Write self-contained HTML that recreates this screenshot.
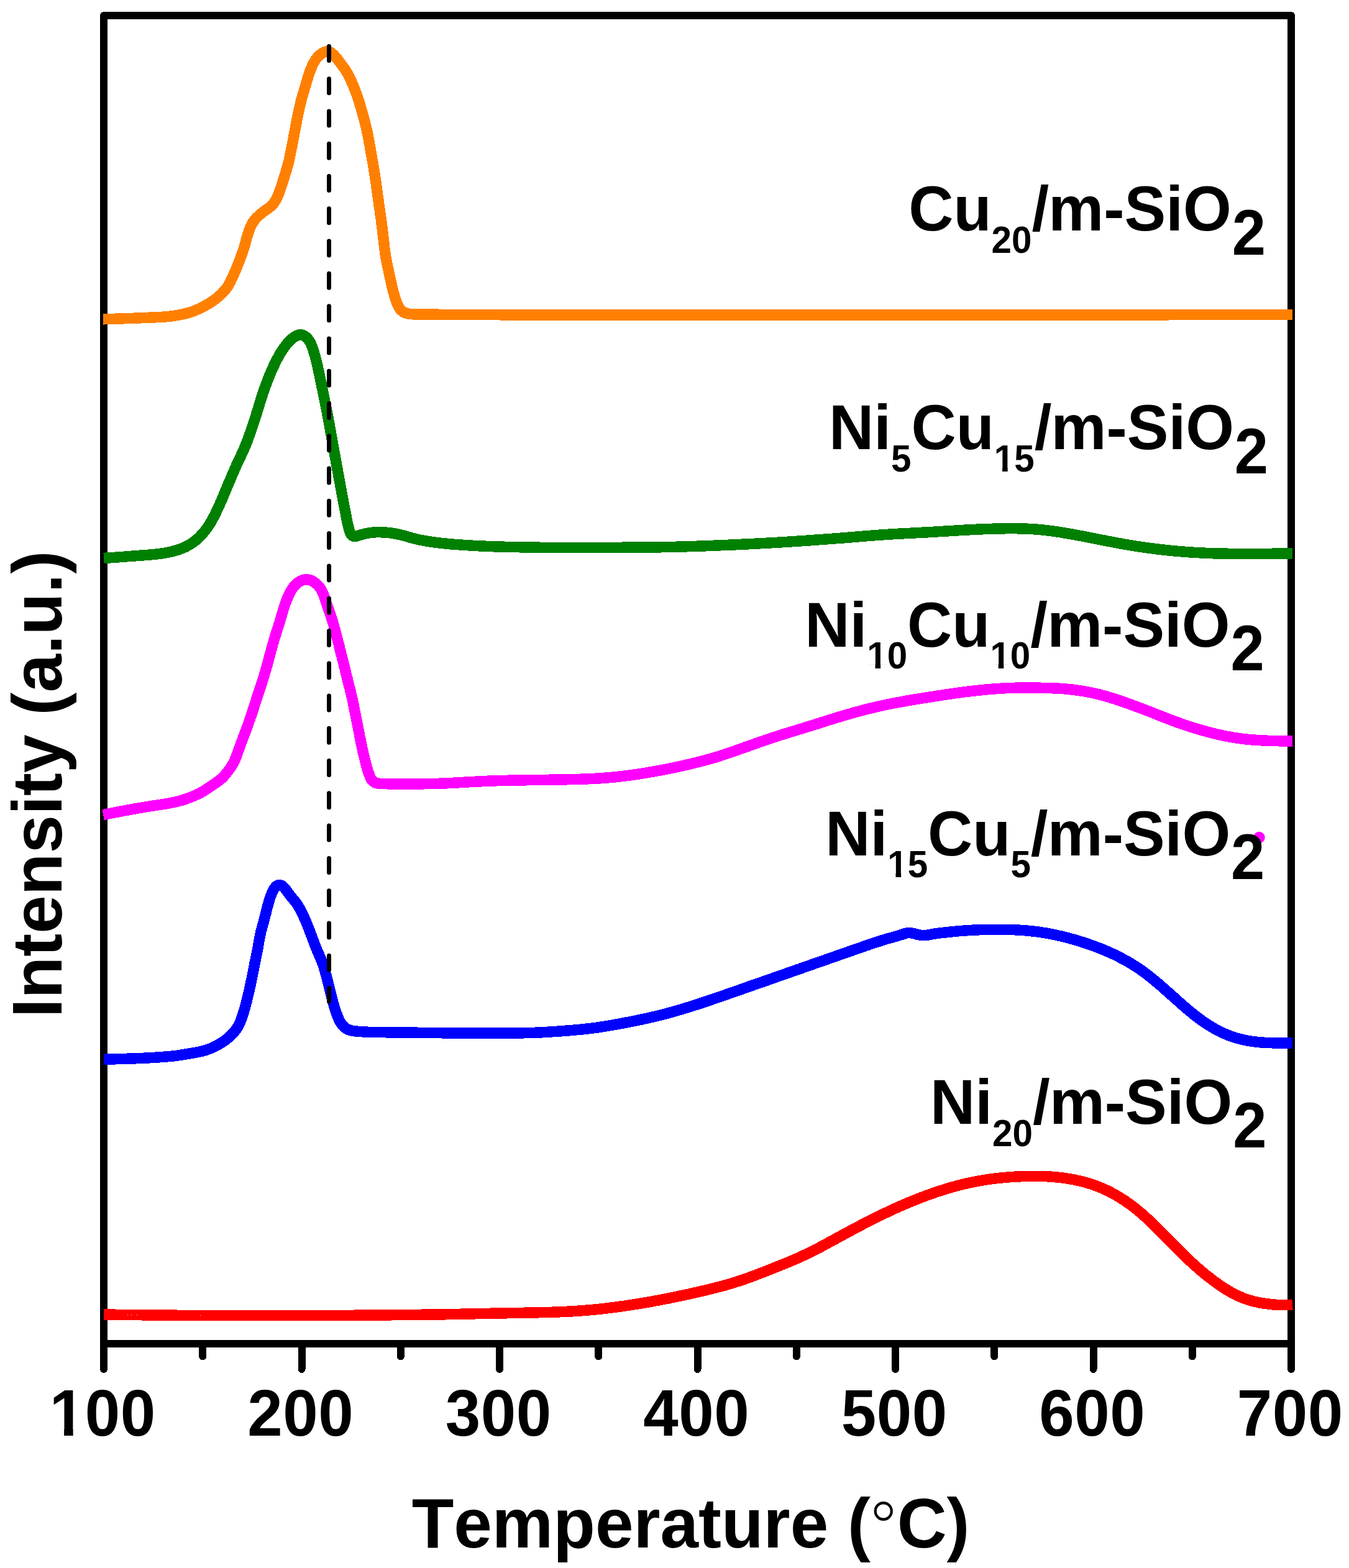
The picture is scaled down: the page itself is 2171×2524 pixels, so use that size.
<!DOCTYPE html>
<html lang="en"><head><meta charset="utf-8"><title>H2-TPR profiles</title>
<style>
html,body{margin:0;padding:0;background:#fff;}
body{width:2171px;height:2524px;overflow:hidden;}
svg{display:block;}
text{font-family:"Liberation Sans",sans-serif;font-weight:bold;fill:#000;font-kerning:none;}
.c{fill:none;stroke-linejoin:round;stroke-linecap:butt;}
.ax{fill:none;stroke:#000;stroke-width:12;}
.tk{fill:none;stroke:#000;stroke-width:12;stroke-linecap:round;}
.lab{font-size:100px;}
.tick{font-size:101.5px;letter-spacing:0.6px;}
.title{font-size:110.7px;}
.sub{font-size:60.8px;}
.fin{font-size:102px;}
.deg{font-family:"DejaVu Sans","Liberation Sans",sans-serif;font-weight:200;font-size:113px;}
</style></head><body>
<svg width="2171" height="2524" viewBox="0 0 2171 2524">
<rect x="0" y="0" width="2171" height="2524" fill="#fff"/>

<g id="axes" shape-rendering="crispEdges">
<path class="ax" stroke-linejoin="round" d="M167,2204 L167,25 L2078,25 L2078,2204"/>
<path class="ax" d="M167,2163 L2078,2163"/>
<path class="tk" d="M167.0,2163 L167.0,2204"/>
<path class="tk" d="M326.2,2163 L326.2,2183.5"/>
<path class="tk" d="M485.5,2163 L485.5,2204"/>
<path class="tk" d="M644.8,2163 L644.8,2183.5"/>
<path class="tk" d="M804.0,2163 L804.0,2204"/>
<path class="tk" d="M963.2,2163 L963.2,2183.5"/>
<path class="tk" d="M1122.5,2163 L1122.5,2204"/>
<path class="tk" d="M1281.8,2163 L1281.8,2183.5"/>
<path class="tk" d="M1441.0,2163 L1441.0,2204"/>
<path class="tk" d="M1600.2,2163 L1600.2,2183.5"/>
<path class="tk" d="M1759.5,2163 L1759.5,2204"/>
<path class="tk" d="M1918.8,2163 L1918.8,2183.5"/>
<path class="tk" d="M2078.0,2163 L2078.0,2204"/>
</g>
<circle cx="2026.4" cy="1348" r="9.3" fill="#ff00ff"/>
<g id="curves" shape-rendering="crispEdges">
<path class="c" stroke="#ff0000" stroke-width="17.5" d="M166.5,2116.0 L170.3,2116.0 L172.8,2116.1 L175.6,2116.1 L178.5,2116.2 L181.5,2116.2 L184.5,2116.2 L187.5,2116.3 L190.5,2116.3 L193.5,2116.3 L196.5,2116.4 L199.5,2116.4 L202.5,2116.4 L205.5,2116.5 L208.5,2116.5 L211.5,2116.6 L214.5,2116.6 L217.5,2116.6 L220.5,2116.7 L223.5,2116.7 L226.5,2116.7 L229.5,2116.8 L232.5,2116.8 L235.5,2116.8 L238.5,2116.8 L241.5,2116.9 L244.5,2116.9 L247.5,2116.9 L250.5,2117.0 L253.5,2117.0 L256.5,2117.0 L259.5,2117.1 L262.5,2117.1 L265.5,2117.1 L268.5,2117.1 L271.5,2117.2 L274.5,2117.2 L277.5,2117.2 L280.5,2117.2 L283.5,2117.2 L286.5,2117.3 L289.5,2117.3 L292.5,2117.3 L295.5,2117.3 L298.5,2117.3 L301.5,2117.4 L304.5,2117.4 L307.5,2117.4 L310.5,2117.4 L313.5,2117.4 L316.5,2117.4 L319.5,2117.4 L322.5,2117.5 L325.5,2117.5 L328.5,2117.5 L331.5,2117.5 L334.5,2117.5 L337.5,2117.5 L340.5,2117.5 L343.5,2117.5 L346.5,2117.5 L349.5,2117.5 L352.5,2117.5 L355.5,2117.5 L358.5,2117.5 L361.5,2117.5 L364.5,2117.5 L367.5,2117.5 L370.5,2117.5 L373.5,2117.5 L376.5,2117.5 L379.5,2117.5 L382.5,2117.5 L385.5,2117.5 L388.5,2117.5 L391.5,2117.5 L394.5,2117.5 L397.5,2117.5 L400.5,2117.5 L403.5,2117.5 L406.5,2117.5 L409.5,2117.5 L412.5,2117.5 L415.5,2117.5 L418.5,2117.5 L421.5,2117.5 L424.5,2117.5 L427.5,2117.5 L430.5,2117.5 L433.5,2117.5 L436.5,2117.5 L439.5,2117.5 L442.5,2117.5 L445.5,2117.5 L448.5,2117.5 L451.5,2117.5 L454.5,2117.5 L457.5,2117.5 L460.5,2117.5 L463.5,2117.5 L466.5,2117.5 L469.5,2117.5 L472.5,2117.5 L475.5,2117.5 L478.5,2117.5 L481.5,2117.5 L484.5,2117.5 L487.5,2117.5 L490.5,2117.5 L493.5,2117.5 L496.5,2117.5 L499.5,2117.5 L502.5,2117.5 L505.5,2117.5 L508.6,2117.5 L511.6,2117.5 L514.6,2117.5 L517.6,2117.5 L520.6,2117.5 L523.6,2117.5 L526.6,2117.5 L529.6,2117.5 L532.6,2117.4 L535.6,2117.4 L538.6,2117.4 L541.6,2117.4 L544.6,2117.4 L547.6,2117.4 L550.6,2117.4 L553.6,2117.4 L556.6,2117.3 L559.6,2117.3 L562.6,2117.3 L565.6,2117.3 L568.6,2117.3 L571.6,2117.2 L574.6,2117.2 L577.6,2117.2 L580.6,2117.2 L583.6,2117.2 L586.6,2117.1 L589.6,2117.1 L592.6,2117.1 L595.6,2117.1 L598.6,2117.0 L601.6,2117.0 L604.6,2117.0 L607.6,2117.0 L610.6,2116.9 L613.6,2116.9 L616.6,2116.9 L619.6,2116.9 L622.6,2116.8 L625.6,2116.8 L628.6,2116.8 L631.6,2116.7 L634.6,2116.7 L637.6,2116.7 L640.6,2116.7 L643.6,2116.6 L646.6,2116.6 L649.6,2116.6 L652.6,2116.5 L655.6,2116.5 L658.6,2116.5 L661.6,2116.4 L664.6,2116.4 L667.6,2116.4 L670.6,2116.3 L673.6,2116.3 L676.6,2116.3 L679.6,2116.2 L682.6,2116.2 L685.6,2116.2 L688.6,2116.1 L691.6,2116.1 L694.6,2116.1 L697.6,2116.0 L700.6,2116.0 L703.6,2115.9 L706.6,2115.9 L709.6,2115.9 L712.6,2115.8 L715.6,2115.8 L718.6,2115.7 L721.6,2115.7 L724.6,2115.6 L727.6,2115.5 L730.6,2115.5 L733.6,2115.4 L736.6,2115.4 L739.6,2115.3 L742.6,2115.2 L745.6,2115.2 L748.6,2115.1 L751.6,2115.1 L754.6,2115.0 L757.6,2114.9 L760.6,2114.9 L763.6,2114.8 L766.6,2114.7 L769.6,2114.7 L772.6,2114.6 L775.6,2114.5 L778.6,2114.5 L781.6,2114.4 L784.6,2114.3 L787.6,2114.3 L790.6,2114.2 L793.6,2114.2 L796.6,2114.1 L799.6,2114.0 L802.6,2114.0 L805.6,2113.9 L808.6,2113.9 L811.6,2113.8 L814.6,2113.8 L817.6,2113.7 L820.6,2113.6 L823.6,2113.6 L826.6,2113.5 L829.6,2113.5 L832.6,2113.4 L835.6,2113.4 L838.6,2113.3 L841.6,2113.3 L844.6,2113.2 L847.6,2113.2 L850.6,2113.1 L853.6,2113.0 L856.6,2113.0 L859.6,2112.9 L862.6,2112.9 L865.6,2112.8 L868.6,2112.7 L871.6,2112.7 L874.6,2112.6 L877.6,2112.5 L880.6,2112.4 L883.6,2112.4 L886.6,2112.3 L889.6,2112.2 L892.6,2112.1 L895.6,2112.0 L898.6,2111.9 L901.6,2111.7 L904.6,2111.6 L907.6,2111.5 L910.6,2111.3 L913.5,2111.2 L916.5,2111.0 L919.5,2110.9 L922.5,2110.7 L925.5,2110.5 L928.5,2110.3 L931.5,2110.1 L934.5,2109.9 L937.5,2109.7 L940.5,2109.5 L943.5,2109.2 L946.5,2109.0 L949.5,2108.7 L952.4,2108.5 L955.4,2108.2 L958.4,2107.9 L961.4,2107.6 L964.4,2107.3 L967.4,2107.0 L970.3,2106.6 L973.3,2106.3 L976.3,2105.9 L979.3,2105.6 L982.3,2105.2 L985.2,2104.8 L988.2,2104.4 L991.2,2104.0 L994.2,2103.6 L997.1,2103.2 L1000.1,2102.8 L1003.1,2102.4 L1006.0,2102.0 L1009.0,2101.5 L1012.0,2101.1 L1014.9,2100.6 L1017.9,2100.2 L1020.9,2099.7 L1023.8,2099.3 L1026.8,2098.8 L1029.8,2098.3 L1032.7,2097.8 L1035.7,2097.3 L1038.6,2096.8 L1041.6,2096.3 L1044.5,2095.8 L1047.5,2095.3 L1050.5,2094.7 L1053.4,2094.2 L1056.4,2093.6 L1059.3,2093.1 L1062.3,2092.5 L1065.2,2092.0 L1068.1,2091.4 L1071.1,2090.8 L1074.0,2090.3 L1077.0,2089.7 L1079.9,2089.1 L1082.9,2088.5 L1085.8,2087.9 L1088.7,2087.3 L1091.7,2086.6 L1094.6,2086.0 L1097.5,2085.4 L1100.5,2084.8 L1103.4,2084.1 L1106.3,2083.5 L1109.3,2082.9 L1112.2,2082.2 L1115.1,2081.5 L1118.1,2080.9 L1121.0,2080.2 L1123.9,2079.6 L1126.8,2078.9 L1129.7,2078.2 L1132.7,2077.5 L1135.6,2076.8 L1138.5,2076.1 L1141.4,2075.4 L1144.3,2074.7 L1147.2,2074.0 L1150.2,2073.3 L1153.1,2072.5 L1156.0,2071.8 L1158.9,2071.0 L1161.8,2070.3 L1164.7,2069.5 L1167.6,2068.7 L1170.4,2067.9 L1173.3,2067.0 L1176.2,2066.2 L1179.1,2065.3 L1181.9,2064.4 L1184.8,2063.5 L1187.6,2062.6 L1190.5,2061.7 L1193.3,2060.7 L1196.2,2059.8 L1199.0,2058.8 L1201.8,2057.8 L1204.6,2056.8 L1207.5,2055.7 L1210.3,2054.7 L1213.1,2053.6 L1215.9,2052.6 L1218.7,2051.5 L1221.5,2050.4 L1224.3,2049.3 L1227.1,2048.3 L1229.9,2047.2 L1232.7,2046.1 L1235.5,2045.0 L1238.3,2043.9 L1241.0,2042.8 L1243.8,2041.7 L1246.6,2040.6 L1249.4,2039.5 L1252.2,2038.4 L1255.0,2037.2 L1257.8,2036.1 L1260.5,2035.0 L1263.3,2033.9 L1266.1,2032.7 L1268.9,2031.6 L1271.6,2030.4 L1274.4,2029.3 L1277.2,2028.1 L1279.9,2026.9 L1282.7,2025.7 L1285.4,2024.5 L1288.1,2023.2 L1290.9,2022.0 L1293.6,2020.7 L1296.3,2019.5 L1299.0,2018.2 L1301.7,2016.9 L1304.4,2015.6 L1307.1,2014.2 L1309.8,2012.9 L1312.4,2011.5 L1315.1,2010.1 L1317.8,2008.7 L1320.4,2007.3 L1323.1,2005.9 L1325.7,2004.5 L1328.3,2003.1 L1331.0,2001.7 L1333.6,2000.2 L1336.2,1998.8 L1338.9,1997.4 L1341.5,1995.9 L1344.1,1994.5 L1346.8,1993.1 L1349.4,1991.6 L1352.0,1990.2 L1354.7,1988.7 L1357.3,1987.3 L1360.0,1985.9 L1362.6,1984.5 L1365.2,1983.0 L1367.9,1981.6 L1370.5,1980.2 L1373.2,1978.8 L1375.8,1977.4 L1378.5,1976.0 L1381.1,1974.6 L1383.8,1973.2 L1386.4,1971.8 L1389.1,1970.4 L1391.8,1969.0 L1394.4,1967.6 L1397.1,1966.3 L1399.8,1964.9 L1402.4,1963.5 L1405.1,1962.2 L1407.8,1960.8 L1410.5,1959.5 L1413.2,1958.2 L1415.9,1956.9 L1418.6,1955.5 L1421.3,1954.2 L1424.0,1952.9 L1426.7,1951.7 L1429.4,1950.4 L1432.1,1949.1 L1434.8,1947.8 L1437.6,1946.6 L1440.3,1945.3 L1443.0,1944.1 L1445.8,1942.9 L1448.5,1941.7 L1451.2,1940.5 L1454.0,1939.3 L1456.8,1938.1 L1459.5,1936.9 L1462.3,1935.7 L1465.0,1934.6 L1467.8,1933.5 L1470.6,1932.3 L1473.4,1931.2 L1476.2,1930.1 L1479.0,1929.0 L1481.8,1927.9 L1484.6,1926.9 L1487.4,1925.8 L1490.2,1924.7 L1493.0,1923.7 L1495.8,1922.7 L1498.6,1921.7 L1501.5,1920.7 L1504.3,1919.7 L1507.1,1918.7 L1510.0,1917.8 L1512.8,1916.9 L1515.7,1916.0 L1518.5,1915.1 L1521.4,1914.2 L1524.3,1913.3 L1527.2,1912.4 L1530.0,1911.6 L1532.9,1910.8 L1535.8,1910.0 L1538.7,1909.2 L1541.6,1908.4 L1544.5,1907.7 L1547.4,1907.0 L1550.3,1906.2 L1553.2,1905.5 L1556.1,1904.9 L1559.1,1904.2 L1562.0,1903.6 L1564.9,1903.0 L1567.9,1902.4 L1570.8,1901.8 L1573.8,1901.2 L1576.7,1900.7 L1579.7,1900.2 L1582.6,1899.7 L1585.6,1899.2 L1588.5,1898.8 L1591.5,1898.3 L1594.5,1897.9 L1597.4,1897.6 L1600.4,1897.2 L1603.4,1896.8 L1606.4,1896.5 L1609.3,1896.2 L1612.3,1895.9 L1615.3,1895.6 L1618.3,1895.3 L1621.3,1895.1 L1624.3,1894.8 L1627.3,1894.6 L1630.3,1894.4 L1633.2,1894.2 L1636.2,1894.1 L1639.2,1893.9 L1642.2,1893.8 L1645.2,1893.7 L1648.2,1893.6 L1651.2,1893.5 L1654.2,1893.4 L1657.2,1893.3 L1660.2,1893.3 L1663.2,1893.3 L1666.2,1893.3 L1669.2,1893.3 L1672.2,1893.3 L1675.2,1893.4 L1678.2,1893.5 L1681.2,1893.6 L1684.2,1893.7 L1687.2,1893.9 L1690.1,1894.1 L1693.1,1894.3 L1696.1,1894.5 L1699.1,1894.8 L1702.1,1895.1 L1705.1,1895.4 L1708.0,1895.7 L1711.0,1896.1 L1714.0,1896.5 L1716.9,1897.0 L1719.9,1897.4 L1722.8,1897.9 L1725.8,1898.5 L1728.7,1899.0 L1731.6,1899.6 L1734.6,1900.3 L1737.5,1900.9 L1740.4,1901.6 L1743.3,1902.4 L1746.2,1903.1 L1749.0,1903.9 L1751.9,1904.8 L1754.7,1905.7 L1757.6,1906.6 L1760.4,1907.6 L1763.2,1908.6 L1766.0,1909.6 L1768.8,1910.7 L1771.5,1911.8 L1774.3,1913.0 L1777.0,1914.2 L1779.7,1915.4 L1782.4,1916.7 L1785.1,1918.0 L1787.8,1919.4 L1790.4,1920.8 L1793.0,1922.2 L1795.6,1923.7 L1798.2,1925.2 L1800.8,1926.7 L1803.3,1928.3 L1805.8,1929.9 L1808.3,1931.5 L1810.8,1933.2 L1813.3,1934.9 L1815.7,1936.6 L1818.2,1938.3 L1820.6,1940.1 L1823.0,1941.9 L1825.3,1943.7 L1827.7,1945.6 L1830.0,1947.5 L1832.3,1949.4 L1834.6,1951.3 L1836.9,1953.2 L1839.2,1955.2 L1841.4,1957.2 L1843.6,1959.2 L1845.8,1961.2 L1848.0,1963.2 L1850.2,1965.3 L1852.4,1967.3 L1854.6,1969.4 L1856.7,1971.5 L1858.9,1973.6 L1861.0,1975.7 L1863.1,1977.8 L1865.2,1979.9 L1867.3,1982.1 L1869.5,1984.2 L1871.6,1986.3 L1873.7,1988.5 L1875.8,1990.6 L1877.9,1992.8 L1880.0,1994.9 L1882.1,1997.1 L1884.2,1999.2 L1886.3,2001.3 L1888.4,2003.5 L1890.5,2005.6 L1892.6,2007.7 L1894.7,2009.9 L1896.8,2012.0 L1898.9,2014.1 L1901.1,2016.2 L1903.2,2018.3 L1905.3,2020.4 L1907.5,2022.5 L1909.6,2024.6 L1911.8,2026.7 L1914.0,2028.7 L1916.2,2030.8 L1918.4,2032.8 L1920.6,2034.8 L1922.8,2036.9 L1925.1,2038.8 L1927.3,2040.8 L1929.6,2042.8 L1931.8,2044.7 L1934.1,2046.7 L1936.4,2048.6 L1938.7,2050.5 L1941.1,2052.4 L1943.4,2054.3 L1945.8,2056.1 L1948.1,2058.0 L1950.5,2059.8 L1952.9,2061.6 L1955.3,2063.4 L1957.7,2065.1 L1960.2,2066.9 L1962.6,2068.6 L1965.1,2070.3 L1967.6,2071.9 L1970.1,2073.6 L1972.6,2075.1 L1975.1,2076.7 L1977.7,2078.2 L1980.3,2079.7 L1982.9,2081.2 L1985.5,2082.6 L1988.2,2083.9 L1990.8,2085.2 L1993.5,2086.4 L1996.2,2087.6 L1999.0,2088.8 L2001.7,2089.9 L2004.5,2090.9 L2007.3,2091.8 L2010.2,2092.8 L2013.0,2093.6 L2015.8,2094.4 L2018.7,2095.1 L2021.6,2095.8 L2024.5,2096.4 L2027.4,2097.0 L2030.3,2097.5 L2033.2,2098.0 L2036.1,2098.4 L2038.9,2098.7 L2041.8,2099.1 L2044.7,2099.5 L2047.5,2099.8 L2050.4,2100.0 L2053.2,2100.2 L2056.1,2100.4 L2059.0,2100.5 L2061.9,2100.6 L2064.8,2100.6 L2067.8,2100.6 L2070.9,2100.5 L2073.8,2100.4 L2076.5,2100.3 L2080.0,2100.0"/>
<path class="c" stroke="#0000ff" stroke-width="17.5" d="M167.0,1705.0 L170.8,1705.0 L173.3,1704.9 L176.1,1704.9 L179.0,1704.9 L182.0,1704.8 L185.0,1704.8 L188.0,1704.7 L191.0,1704.6 L194.0,1704.5 L197.0,1704.5 L200.0,1704.4 L203.0,1704.3 L206.0,1704.2 L209.0,1704.1 L212.0,1704.0 L215.0,1703.9 L218.0,1703.8 L221.0,1703.6 L224.0,1703.5 L227.0,1703.4 L230.0,1703.3 L233.0,1703.2 L236.0,1703.0 L239.0,1702.9 L242.0,1702.7 L245.0,1702.5 L248.0,1702.3 L251.0,1702.2 L253.9,1702.0 L256.9,1701.7 L259.9,1701.5 L262.9,1701.3 L265.9,1701.1 L268.9,1700.8 L271.9,1700.5 L274.9,1700.3 L277.9,1700.0 L280.8,1699.7 L283.8,1699.3 L286.8,1698.9 L289.8,1698.5 L292.7,1698.0 L295.7,1697.5 L298.7,1697.0 L301.6,1696.5 L304.6,1696.0 L307.5,1695.5 L310.5,1695.0 L313.4,1694.5 L316.4,1693.9 L319.3,1693.4 L322.3,1692.7 L325.2,1692.1 L328.1,1691.3 L331.0,1690.5 L333.8,1689.5 L336.6,1688.5 L339.4,1687.4 L342.1,1686.2 L344.8,1684.9 L347.5,1683.5 L350.2,1682.1 L352.8,1680.7 L355.4,1679.1 L357.9,1677.5 L360.4,1675.9 L362.8,1674.1 L365.2,1672.3 L367.5,1670.4 L369.7,1668.4 L371.9,1666.4 L374.0,1664.2 L376.1,1662.0 L378.0,1659.7 L379.8,1657.3 L381.5,1654.9 L383.0,1652.3 L384.4,1649.7 L385.7,1647.0 L386.9,1644.2 L388.0,1641.4 L389.0,1638.6 L389.9,1635.8 L390.9,1632.9 L391.8,1630.1 L392.7,1627.2 L393.5,1624.3 L394.4,1621.4 L395.2,1618.6 L395.9,1615.7 L396.7,1612.8 L397.4,1609.8 L398.1,1606.9 L398.8,1604.0 L399.5,1601.1 L400.2,1598.2 L400.9,1595.2 L401.5,1592.3 L402.2,1589.4 L402.8,1586.5 L403.4,1583.5 L404.0,1580.6 L404.7,1577.6 L405.3,1574.7 L405.9,1571.8 L406.4,1568.8 L407.0,1565.9 L407.6,1562.9 L408.2,1560.0 L408.8,1557.0 L409.3,1554.1 L409.9,1551.2 L410.5,1548.2 L411.1,1545.3 L411.7,1542.3 L412.3,1539.4 L412.9,1536.5 L413.5,1533.5 L414.1,1530.6 L414.7,1527.6 L415.2,1524.7 L415.7,1521.7 L416.2,1518.8 L416.7,1515.8 L417.3,1512.9 L417.8,1509.9 L418.4,1507.0 L419.0,1504.0 L419.6,1501.1 L420.3,1498.2 L421.1,1495.3 L421.9,1492.4 L422.7,1489.5 L423.5,1486.6 L424.3,1483.7 L425.1,1480.8 L425.9,1477.9 L426.6,1475.0 L427.3,1472.1 L428.1,1469.2 L428.8,1466.3 L429.5,1463.4 L430.2,1460.5 L431.0,1457.6 L431.8,1454.7 L432.6,1451.8 L433.5,1448.9 L434.4,1446.1 L435.3,1443.2 L436.4,1440.4 L437.5,1437.6 L438.7,1434.9 L440.1,1432.3 L441.7,1429.8 L443.5,1427.6 L445.6,1425.8 L448.0,1424.7 L450.4,1424.5 L452.8,1425.2 L455.1,1426.6 L457.1,1428.6 L459.1,1430.8 L460.9,1433.2 L462.6,1435.6 L464.4,1438.0 L466.2,1440.4 L468.0,1442.8 L469.9,1445.1 L471.9,1447.4 L473.8,1449.7 L475.7,1452.0 L477.5,1454.4 L479.1,1456.9 L480.7,1459.5 L482.2,1462.1 L483.6,1464.7 L485.0,1467.4 L486.3,1470.1 L487.6,1472.8 L488.8,1475.5 L490.1,1478.2 L491.3,1481.0 L492.5,1483.7 L493.6,1486.5 L494.7,1489.3 L495.8,1492.1 L496.9,1494.9 L498.0,1497.7 L499.0,1500.5 L500.1,1503.3 L501.2,1506.1 L502.3,1508.9 L503.3,1511.7 L504.4,1514.5 L505.4,1517.3 L506.5,1520.1 L507.6,1522.9 L508.7,1525.7 L509.8,1528.5 L511.0,1531.2 L512.2,1534.0 L513.4,1536.7 L514.6,1539.5 L515.8,1542.2 L516.9,1545.0 L518.1,1547.8 L519.1,1550.6 L520.1,1553.4 L521.0,1556.3 L521.9,1559.1 L522.8,1562.0 L523.6,1564.9 L524.3,1567.8 L525.1,1570.7 L525.9,1573.6 L526.6,1576.5 L527.4,1579.4 L528.1,1582.3 L528.9,1585.2 L529.6,1588.1 L530.3,1591.1 L531.0,1594.0 L531.8,1596.9 L532.5,1599.8 L533.2,1602.7 L534.0,1605.6 L534.7,1608.5 L535.4,1611.4 L536.2,1614.3 L537.0,1617.2 L537.8,1620.1 L538.6,1623.0 L539.5,1625.8 L540.5,1628.7 L541.5,1631.5 L542.6,1634.3 L543.7,1637.1 L544.9,1639.8 L546.2,1642.5 L547.6,1645.2 L549.1,1647.7 L550.9,1650.1 L552.9,1652.2 L555.1,1654.1 L557.6,1655.8 L560.2,1657.2 L562.9,1658.2 L565.8,1659.0 L568.7,1659.5 L571.7,1659.9 L574.7,1660.2 L577.6,1660.4 L580.6,1660.6 L583.6,1660.8 L586.6,1661.0 L589.6,1661.1 L592.6,1661.3 L595.6,1661.4 L598.6,1661.4 L601.6,1661.5 L604.6,1661.6 L607.6,1661.6 L610.6,1661.6 L613.6,1661.7 L616.6,1661.7 L619.6,1661.7 L622.6,1661.8 L625.6,1661.8 L628.6,1661.8 L631.6,1661.8 L634.6,1661.9 L637.6,1661.9 L640.6,1661.9 L643.6,1661.9 L646.6,1662.0 L649.6,1662.0 L652.6,1662.0 L655.6,1662.1 L658.6,1662.1 L661.6,1662.1 L664.6,1662.2 L667.6,1662.2 L670.6,1662.2 L673.6,1662.3 L676.6,1662.3 L679.6,1662.4 L682.6,1662.4 L685.6,1662.4 L688.6,1662.5 L691.6,1662.5 L694.6,1662.6 L697.6,1662.6 L700.6,1662.6 L703.6,1662.7 L706.6,1662.7 L709.6,1662.7 L712.6,1662.8 L715.6,1662.8 L718.6,1662.8 L721.6,1662.8 L724.6,1662.9 L727.6,1662.9 L730.6,1662.9 L733.6,1662.9 L736.6,1662.9 L739.6,1662.9 L742.6,1662.9 L745.6,1663.0 L748.6,1663.0 L751.6,1663.0 L754.6,1663.0 L757.6,1663.0 L760.6,1663.0 L763.6,1663.0 L766.6,1663.0 L769.6,1663.0 L772.6,1663.0 L775.6,1663.0 L778.6,1663.0 L781.6,1663.0 L784.6,1663.0 L787.6,1663.0 L790.6,1663.0 L793.6,1663.0 L796.6,1663.0 L799.6,1663.0 L802.6,1663.0 L805.6,1663.0 L808.6,1663.0 L811.6,1663.0 L814.6,1663.0 L817.6,1663.0 L820.6,1663.0 L823.6,1663.0 L826.6,1662.9 L829.6,1662.9 L832.6,1662.9 L835.6,1662.9 L838.6,1662.8 L841.6,1662.8 L844.6,1662.7 L847.6,1662.7 L850.6,1662.6 L853.6,1662.5 L856.6,1662.4 L859.6,1662.3 L862.6,1662.2 L865.6,1662.1 L868.6,1662.0 L871.6,1661.8 L874.6,1661.7 L877.6,1661.5 L880.6,1661.3 L883.6,1661.1 L886.6,1660.9 L889.6,1660.7 L892.6,1660.5 L895.5,1660.3 L898.5,1660.1 L901.5,1659.9 L904.5,1659.7 L907.5,1659.5 L910.5,1659.2 L913.5,1659.0 L916.5,1658.8 L919.5,1658.5 L922.5,1658.3 L925.5,1658.0 L928.4,1657.7 L931.4,1657.5 L934.4,1657.2 L937.4,1656.9 L940.4,1656.6 L943.4,1656.2 L946.3,1655.9 L949.3,1655.6 L952.3,1655.2 L955.3,1654.8 L958.2,1654.4 L961.2,1654.0 L964.2,1653.6 L967.1,1653.1 L970.1,1652.7 L973.1,1652.2 L976.0,1651.7 L979.0,1651.2 L981.9,1650.7 L984.9,1650.2 L987.8,1649.7 L990.8,1649.1 L993.7,1648.6 L996.7,1648.1 L999.6,1647.5 L1002.6,1647.0 L1005.5,1646.4 L1008.5,1645.8 L1011.4,1645.3 L1014.4,1644.7 L1017.3,1644.1 L1020.3,1643.5 L1023.2,1642.9 L1026.1,1642.3 L1029.1,1641.7 L1032.0,1641.1 L1034.9,1640.5 L1037.9,1639.9 L1040.8,1639.2 L1043.7,1638.6 L1046.7,1637.9 L1049.6,1637.2 L1052.5,1636.6 L1055.4,1635.9 L1058.3,1635.1 L1061.2,1634.4 L1064.2,1633.7 L1067.1,1633.0 L1070.0,1632.2 L1072.9,1631.4 L1075.8,1630.7 L1078.7,1629.9 L1081.5,1629.1 L1084.4,1628.3 L1087.3,1627.4 L1090.2,1626.6 L1093.1,1625.8 L1096.0,1624.9 L1098.8,1624.1 L1101.7,1623.2 L1104.6,1622.3 L1107.4,1621.4 L1110.3,1620.5 L1113.2,1619.6 L1116.0,1618.7 L1118.9,1617.8 L1121.7,1616.9 L1124.6,1616.0 L1127.4,1615.0 L1130.3,1614.1 L1133.1,1613.1 L1136.0,1612.2 L1138.8,1611.2 L1141.7,1610.3 L1144.5,1609.3 L1147.3,1608.3 L1150.2,1607.4 L1153.0,1606.4 L1155.9,1605.4 L1158.7,1604.4 L1161.5,1603.5 L1164.4,1602.5 L1167.2,1601.5 L1170.0,1600.5 L1172.9,1599.5 L1175.7,1598.5 L1178.5,1597.5 L1181.4,1596.6 L1184.2,1595.6 L1187.0,1594.6 L1189.9,1593.6 L1192.7,1592.6 L1195.5,1591.6 L1198.3,1590.6 L1201.2,1589.6 L1204.0,1588.6 L1206.8,1587.6 L1209.7,1586.6 L1212.5,1585.6 L1215.3,1584.6 L1218.2,1583.6 L1221.0,1582.7 L1223.8,1581.7 L1226.7,1580.7 L1229.5,1579.7 L1232.3,1578.7 L1235.2,1577.7 L1238.0,1576.7 L1240.8,1575.7 L1243.6,1574.7 L1246.5,1573.7 L1249.3,1572.7 L1252.1,1571.7 L1255.0,1570.8 L1257.8,1569.8 L1260.6,1568.8 L1263.5,1567.8 L1266.3,1566.8 L1269.1,1565.8 L1272.0,1564.8 L1274.8,1563.8 L1277.6,1562.8 L1280.5,1561.8 L1283.3,1560.8 L1286.1,1559.9 L1289.0,1558.9 L1291.8,1557.9 L1294.6,1556.9 L1297.5,1555.9 L1300.3,1554.9 L1303.1,1553.9 L1306.0,1552.9 L1308.8,1551.9 L1311.6,1550.9 L1314.4,1549.9 L1317.3,1549.0 L1320.1,1548.0 L1322.9,1547.0 L1325.8,1546.0 L1328.6,1545.0 L1331.4,1544.0 L1334.3,1543.0 L1337.1,1542.0 L1339.9,1541.0 L1342.8,1540.0 L1345.6,1539.0 L1348.4,1538.0 L1351.3,1537.0 L1354.1,1536.0 L1356.9,1535.0 L1359.7,1534.1 L1362.6,1533.1 L1365.4,1532.1 L1368.2,1531.1 L1371.1,1530.1 L1373.9,1529.1 L1376.7,1528.1 L1379.6,1527.1 L1382.4,1526.1 L1385.2,1525.2 L1388.1,1524.2 L1390.9,1523.2 L1393.7,1522.2 L1396.6,1521.3 L1399.4,1520.3 L1402.3,1519.3 L1405.1,1518.4 L1408.0,1517.4 L1410.8,1516.5 L1413.7,1515.6 L1416.5,1514.6 L1419.4,1513.7 L1422.2,1512.9 L1425.1,1512.0 L1427.9,1511.1 L1430.8,1510.3 L1433.7,1509.5 L1436.5,1508.8 L1439.4,1507.9 L1442.3,1507.1 L1445.1,1506.3 L1448.0,1505.4 L1450.9,1504.5 L1453.7,1503.6 L1456.6,1502.7 L1459.5,1501.8 L1462.5,1501.6 L1465.4,1501.7 L1468.3,1502.2 L1471.2,1502.8 L1474.1,1503.6 L1477.0,1504.4 L1479.9,1505.0 L1482.9,1505.5 L1485.8,1505.7 L1488.8,1505.7 L1491.8,1505.3 L1494.8,1504.8 L1497.7,1504.3 L1500.7,1503.7 L1503.6,1503.2 L1506.6,1502.7 L1509.6,1502.3 L1512.5,1501.9 L1515.5,1501.6 L1518.5,1501.3 L1521.4,1501.0 L1524.4,1500.6 L1527.4,1500.3 L1530.4,1500.0 L1533.3,1499.7 L1536.3,1499.4 L1539.3,1499.1 L1542.3,1498.8 L1545.3,1498.6 L1548.3,1498.3 L1551.2,1498.1 L1554.2,1497.9 L1557.2,1497.7 L1560.2,1497.5 L1563.2,1497.3 L1566.2,1497.2 L1569.2,1497.1 L1572.2,1496.9 L1575.2,1496.8 L1578.2,1496.7 L1581.2,1496.6 L1584.2,1496.6 L1587.2,1496.5 L1590.2,1496.4 L1593.2,1496.4 L1596.2,1496.3 L1599.2,1496.3 L1602.2,1496.3 L1605.2,1496.3 L1608.2,1496.3 L1611.2,1496.3 L1614.2,1496.3 L1617.2,1496.3 L1620.2,1496.4 L1623.2,1496.5 L1626.2,1496.5 L1629.2,1496.6 L1632.2,1496.7 L1635.1,1496.9 L1638.1,1497.0 L1641.1,1497.2 L1644.1,1497.4 L1647.1,1497.6 L1650.1,1497.8 L1653.1,1498.1 L1656.1,1498.4 L1659.0,1498.7 L1662.0,1499.0 L1665.0,1499.3 L1668.0,1499.7 L1670.9,1500.1 L1673.9,1500.5 L1676.9,1501.0 L1679.8,1501.4 L1682.8,1501.9 L1685.7,1502.4 L1688.7,1502.9 L1691.6,1503.5 L1694.6,1504.1 L1697.5,1504.7 L1700.4,1505.3 L1703.3,1506.0 L1706.3,1506.6 L1709.2,1507.3 L1712.1,1508.0 L1715.0,1508.8 L1717.9,1509.5 L1720.8,1510.3 L1723.7,1511.1 L1726.6,1511.9 L1729.5,1512.7 L1732.3,1513.6 L1735.2,1514.4 L1738.1,1515.3 L1740.9,1516.2 L1743.8,1517.1 L1746.6,1518.1 L1749.5,1519.0 L1752.3,1520.0 L1755.1,1521.0 L1757.9,1522.0 L1760.8,1523.0 L1763.6,1524.1 L1766.4,1525.1 L1769.2,1526.2 L1771.9,1527.3 L1774.7,1528.4 L1777.5,1529.6 L1780.2,1530.8 L1783.0,1531.9 L1785.7,1533.2 L1788.5,1534.4 L1791.2,1535.6 L1793.9,1536.9 L1796.6,1538.2 L1799.3,1539.6 L1801.9,1540.9 L1804.6,1542.3 L1807.3,1543.7 L1809.9,1545.1 L1812.5,1546.5 L1815.1,1548.0 L1817.7,1549.5 L1820.3,1551.1 L1822.8,1552.6 L1825.3,1554.2 L1827.9,1555.8 L1830.4,1557.5 L1832.8,1559.1 L1835.3,1560.8 L1837.7,1562.5 L1840.2,1564.3 L1842.6,1566.1 L1845.0,1567.9 L1847.3,1569.7 L1849.7,1571.5 L1852.1,1573.4 L1854.4,1575.3 L1856.7,1577.2 L1859.0,1579.1 L1861.3,1581.0 L1863.6,1582.9 L1865.9,1584.9 L1868.2,1586.8 L1870.4,1588.8 L1872.7,1590.8 L1874.9,1592.8 L1877.2,1594.7 L1879.4,1596.7 L1881.7,1598.7 L1883.9,1600.7 L1886.1,1602.7 L1888.4,1604.7 L1890.6,1606.7 L1892.8,1608.7 L1895.1,1610.7 L1897.3,1612.7 L1899.6,1614.7 L1901.8,1616.7 L1904.1,1618.7 L1906.3,1620.6 L1908.6,1622.6 L1910.9,1624.6 L1913.2,1626.5 L1915.5,1628.4 L1917.8,1630.3 L1920.1,1632.2 L1922.4,1634.1 L1924.8,1635.9 L1927.2,1637.7 L1929.6,1639.5 L1932.0,1641.3 L1934.4,1643.0 L1936.9,1644.7 L1939.3,1646.4 L1941.8,1648.1 L1944.3,1649.7 L1946.8,1651.3 L1949.4,1652.8 L1952.0,1654.4 L1954.5,1655.8 L1957.2,1657.3 L1959.8,1658.7 L1962.4,1660.0 L1965.1,1661.3 L1967.8,1662.6 L1970.5,1663.8 L1973.3,1665.0 L1976.0,1666.1 L1978.8,1667.2 L1981.6,1668.2 L1984.4,1669.2 L1987.2,1670.1 L1990.1,1671.0 L1992.9,1671.8 L1995.8,1672.5 L1998.7,1673.3 L2001.6,1673.9 L2004.5,1674.5 L2007.4,1675.1 L2010.3,1675.6 L2013.3,1676.1 L2016.2,1676.5 L2019.2,1676.9 L2022.1,1677.2 L2025.1,1677.5 L2028.0,1677.8 L2031.0,1678.0 L2033.9,1678.2 L2036.8,1678.4 L2039.7,1678.5 L2042.6,1678.6 L2045.5,1678.7 L2048.4,1678.8 L2051.3,1678.9 L2054.1,1678.9 L2057.0,1678.9 L2059.9,1679.0 L2062.8,1679.0 L2065.8,1679.0 L2068.8,1679.0 L2071.9,1679.0 L2074.8,1679.0 L2077.3,1679.0 L2080.0,1679.0"/>
<path class="c" stroke="#ff00ff" stroke-width="17.5" d="M166.0,1311.5 L169.8,1310.8 L172.2,1310.3 L174.9,1309.8 L177.8,1309.2 L180.7,1308.6 L183.7,1308.1 L186.6,1307.5 L189.6,1307.0 L192.5,1306.4 L195.5,1305.8 L198.4,1305.3 L201.4,1304.8 L204.3,1304.2 L207.3,1303.7 L210.2,1303.1 L213.2,1302.6 L216.1,1302.1 L219.1,1301.5 L222.0,1301.0 L225.0,1300.5 L228.0,1300.0 L230.9,1299.5 L233.9,1299.0 L236.8,1298.5 L239.8,1298.0 L242.8,1297.6 L245.7,1297.1 L248.7,1296.7 L251.7,1296.2 L254.6,1295.8 L257.6,1295.4 L260.6,1294.9 L263.5,1294.5 L266.5,1294.0 L269.5,1293.5 L272.4,1293.0 L275.4,1292.4 L278.3,1291.8 L281.2,1291.2 L284.2,1290.6 L287.1,1289.8 L290.0,1289.1 L292.8,1288.2 L295.7,1287.3 L298.5,1286.3 L301.4,1285.3 L304.2,1284.3 L307.0,1283.2 L309.8,1282.1 L312.5,1281.0 L315.3,1279.8 L318.0,1278.5 L320.7,1277.2 L323.4,1275.8 L326.0,1274.3 L328.5,1272.7 L331.0,1271.1 L333.5,1269.4 L336.0,1267.8 L338.5,1266.1 L341.0,1264.4 L343.5,1262.7 L346.0,1261.1 L348.5,1259.4 L350.9,1257.7 L353.3,1255.9 L355.6,1254.0 L357.8,1252.0 L359.9,1249.8 L361.9,1247.6 L363.9,1245.3 L365.7,1243.0 L367.5,1240.6 L369.3,1238.1 L371.0,1235.7 L372.6,1233.1 L374.2,1230.6 L375.6,1228.0 L377.0,1225.3 L378.3,1222.6 L379.4,1219.8 L380.5,1217.1 L381.6,1214.2 L382.6,1211.4 L383.6,1208.6 L384.6,1205.8 L385.6,1202.9 L386.6,1200.1 L387.6,1197.3 L388.6,1194.5 L389.7,1191.7 L390.8,1188.8 L391.8,1186.0 L392.9,1183.2 L394.0,1180.4 L395.0,1177.6 L396.1,1174.8 L397.1,1172.0 L398.2,1169.2 L399.2,1166.4 L400.2,1163.5 L401.2,1160.7 L402.2,1157.9 L403.1,1155.0 L404.1,1152.2 L405.1,1149.4 L406.0,1146.5 L406.9,1143.7 L407.9,1140.8 L408.8,1137.9 L409.7,1135.1 L410.6,1132.2 L411.5,1129.4 L412.4,1126.5 L413.3,1123.7 L414.3,1120.8 L415.2,1117.9 L416.2,1115.1 L417.1,1112.3 L418.1,1109.4 L419.0,1106.6 L420.0,1103.7 L420.9,1100.9 L421.8,1098.0 L422.7,1095.1 L423.6,1092.3 L424.5,1089.4 L425.4,1086.5 L426.2,1083.7 L427.1,1080.8 L427.9,1077.9 L428.7,1075.0 L429.6,1072.1 L430.4,1069.2 L431.1,1066.3 L431.9,1063.4 L432.7,1060.5 L433.5,1057.6 L434.2,1054.7 L435.0,1051.8 L435.8,1049.0 L436.6,1046.1 L437.4,1043.2 L438.2,1040.3 L439.0,1037.4 L439.8,1034.5 L440.6,1031.6 L441.5,1028.7 L442.3,1025.9 L443.2,1023.0 L444.1,1020.1 L445.0,1017.3 L445.9,1014.4 L446.8,1011.5 L447.7,1008.7 L448.6,1005.8 L449.6,1003.0 L450.5,1000.1 L451.3,997.2 L452.2,994.4 L453.0,991.5 L453.9,988.6 L454.7,985.7 L455.6,982.8 L456.4,980.0 L457.4,977.1 L458.3,974.3 L459.3,971.4 L460.3,968.6 L461.4,965.8 L462.5,963.0 L463.7,960.3 L464.9,957.5 L466.1,954.8 L467.5,952.2 L469.1,949.6 L470.7,947.1 L472.5,944.7 L474.4,942.4 L476.5,940.3 L478.7,938.4 L481.1,936.6 L483.7,935.1 L486.4,934.0 L489.2,933.2 L492.0,932.8 L494.9,932.9 L497.8,933.4 L500.6,934.3 L503.2,935.6 L505.7,937.1 L508.1,938.9 L510.3,940.9 L512.4,943.0 L514.3,945.3 L516.0,947.7 L517.6,950.3 L518.9,952.9 L520.1,955.7 L521.2,958.5 L522.2,961.3 L523.1,964.1 L524.1,967.0 L525.0,969.8 L526.0,972.7 L526.9,975.5 L527.9,978.4 L528.9,981.2 L529.9,984.0 L530.9,986.9 L531.8,989.7 L532.8,992.6 L533.7,995.4 L534.6,998.3 L535.5,1001.1 L536.3,1004.0 L537.2,1006.9 L538.0,1009.8 L538.8,1012.7 L539.6,1015.6 L540.4,1018.5 L541.1,1021.4 L541.9,1024.3 L542.6,1027.2 L543.4,1030.1 L544.1,1033.0 L544.9,1035.9 L545.6,1038.8 L546.3,1041.7 L547.0,1044.6 L547.8,1047.6 L548.5,1050.5 L549.2,1053.4 L550.0,1056.3 L550.7,1059.2 L551.4,1062.1 L552.2,1065.0 L552.9,1067.9 L553.6,1070.8 L554.3,1073.8 L555.1,1076.7 L555.8,1079.6 L556.5,1082.5 L557.2,1085.4 L557.9,1088.3 L558.7,1091.2 L559.4,1094.1 L560.1,1097.1 L560.8,1100.0 L561.6,1102.9 L562.3,1105.8 L563.1,1108.7 L563.8,1111.6 L564.5,1114.5 L565.2,1117.4 L565.9,1120.3 L566.6,1123.3 L567.2,1126.2 L567.9,1129.1 L568.5,1132.1 L569.1,1135.0 L569.6,1138.0 L570.2,1140.9 L570.8,1143.8 L571.4,1146.8 L572.0,1149.7 L572.6,1152.7 L573.1,1155.6 L573.7,1158.6 L574.3,1161.5 L574.9,1164.4 L575.5,1167.4 L576.0,1170.3 L576.6,1173.3 L577.2,1176.2 L577.8,1179.2 L578.4,1182.1 L578.9,1185.1 L579.5,1188.0 L580.1,1190.9 L580.7,1193.9 L581.3,1196.8 L581.9,1199.8 L582.6,1202.7 L583.2,1205.6 L583.8,1208.6 L584.5,1211.5 L585.2,1214.4 L585.8,1217.3 L586.5,1220.3 L587.3,1223.2 L588.0,1226.1 L588.7,1229.0 L589.5,1231.9 L590.2,1234.8 L591.1,1237.7 L591.9,1240.5 L592.9,1243.4 L593.9,1246.2 L595.0,1249.0 L596.2,1251.7 L597.5,1254.3 L599.1,1256.6 L601.2,1258.5 L603.6,1259.8 L606.3,1260.6 L609.1,1261.1 L612.1,1261.4 L615.1,1261.5 L618.1,1261.6 L621.1,1261.7 L624.1,1261.8 L627.1,1261.8 L630.1,1261.9 L633.1,1261.9 L636.1,1261.9 L639.1,1262.0 L642.1,1262.0 L645.1,1262.0 L648.1,1262.0 L651.1,1262.0 L654.1,1262.0 L657.1,1262.0 L660.1,1262.0 L663.1,1261.9 L666.1,1261.9 L669.1,1261.9 L672.1,1261.9 L675.1,1261.8 L678.1,1261.8 L681.1,1261.8 L684.1,1261.7 L687.1,1261.7 L690.1,1261.6 L693.1,1261.6 L696.1,1261.5 L699.1,1261.5 L702.1,1261.4 L705.1,1261.3 L708.1,1261.2 L711.1,1261.1 L714.1,1261.0 L717.1,1260.9 L720.1,1260.7 L723.1,1260.6 L726.1,1260.4 L729.1,1260.3 L732.1,1260.1 L735.1,1259.9 L738.1,1259.8 L741.1,1259.6 L744.1,1259.4 L747.1,1259.2 L750.1,1259.1 L753.1,1258.9 L756.0,1258.7 L759.0,1258.6 L762.0,1258.4 L765.0,1258.2 L768.0,1258.1 L771.0,1257.9 L774.0,1257.8 L777.0,1257.6 L780.0,1257.5 L783.0,1257.3 L786.0,1257.2 L789.0,1257.1 L792.0,1257.0 L795.0,1256.9 L798.0,1256.8 L801.0,1256.7 L804.0,1256.6 L807.0,1256.5 L810.0,1256.4 L813.0,1256.3 L816.0,1256.3 L819.0,1256.2 L822.0,1256.1 L825.0,1256.1 L828.0,1256.0 L831.0,1256.0 L834.0,1255.9 L837.0,1255.9 L840.0,1255.8 L843.0,1255.8 L846.0,1255.8 L849.0,1255.7 L852.0,1255.7 L855.0,1255.6 L858.0,1255.6 L861.0,1255.5 L864.0,1255.5 L867.0,1255.5 L870.0,1255.4 L873.0,1255.4 L876.0,1255.3 L879.0,1255.3 L882.0,1255.3 L885.0,1255.2 L888.0,1255.2 L891.0,1255.1 L894.0,1255.1 L897.0,1255.0 L900.0,1255.0 L903.0,1254.9 L906.0,1254.9 L909.0,1254.8 L912.0,1254.8 L915.0,1254.7 L918.0,1254.6 L921.0,1254.6 L924.0,1254.5 L927.0,1254.4 L930.0,1254.4 L933.0,1254.3 L936.0,1254.2 L939.0,1254.1 L942.0,1254.0 L945.0,1253.9 L948.0,1253.7 L951.0,1253.6 L954.0,1253.5 L957.0,1253.3 L960.0,1253.1 L963.0,1253.0 L966.0,1252.8 L969.0,1252.6 L972.0,1252.3 L974.9,1252.1 L977.9,1251.9 L980.9,1251.6 L983.9,1251.3 L986.9,1251.1 L989.9,1250.8 L992.9,1250.5 L995.8,1250.1 L998.8,1249.8 L1001.8,1249.5 L1004.8,1249.1 L1007.8,1248.7 L1010.7,1248.4 L1013.7,1248.0 L1016.7,1247.6 L1019.7,1247.1 L1022.6,1246.7 L1025.6,1246.3 L1028.6,1245.8 L1031.5,1245.4 L1034.5,1244.9 L1037.4,1244.4 L1040.4,1243.9 L1043.4,1243.4 L1046.3,1242.9 L1049.3,1242.4 L1052.2,1241.9 L1055.2,1241.4 L1058.1,1240.8 L1061.1,1240.3 L1064.0,1239.7 L1067.0,1239.2 L1069.9,1238.6 L1072.9,1238.0 L1075.8,1237.4 L1078.7,1236.8 L1081.7,1236.2 L1084.6,1235.6 L1087.6,1235.0 L1090.5,1234.4 L1093.4,1233.7 L1096.4,1233.1 L1099.3,1232.5 L1102.2,1231.8 L1105.1,1231.1 L1108.1,1230.5 L1111.0,1229.8 L1113.9,1229.1 L1116.8,1228.4 L1119.7,1227.7 L1122.6,1226.9 L1125.6,1226.2 L1128.5,1225.5 L1131.4,1224.7 L1134.3,1223.9 L1137.1,1223.1 L1140.0,1222.3 L1142.9,1221.5 L1145.8,1220.7 L1148.7,1219.8 L1151.6,1219.0 L1154.4,1218.1 L1157.3,1217.2 L1160.1,1216.3 L1163.0,1215.4 L1165.8,1214.4 L1168.7,1213.5 L1171.5,1212.5 L1174.4,1211.6 L1177.2,1210.6 L1180.0,1209.6 L1182.9,1208.6 L1185.7,1207.6 L1188.5,1206.6 L1191.4,1205.6 L1194.2,1204.6 L1197.0,1203.6 L1199.8,1202.6 L1202.7,1201.6 L1205.5,1200.6 L1208.3,1199.6 L1211.1,1198.6 L1214.0,1197.6 L1216.8,1196.6 L1219.6,1195.6 L1222.5,1194.6 L1225.3,1193.6 L1228.1,1192.6 L1231.0,1191.7 L1233.8,1190.7 L1236.7,1189.7 L1239.5,1188.8 L1242.3,1187.8 L1245.2,1186.9 L1248.0,1185.9 L1250.9,1185.0 L1253.8,1184.1 L1256.6,1183.2 L1259.5,1182.3 L1262.3,1181.4 L1265.2,1180.5 L1268.1,1179.6 L1270.9,1178.7 L1273.8,1177.8 L1276.7,1177.0 L1279.5,1176.1 L1282.4,1175.2 L1285.3,1174.3 L1288.1,1173.5 L1291.0,1172.6 L1293.9,1171.7 L1296.8,1170.8 L1299.6,1169.9 L1302.5,1169.0 L1305.4,1168.2 L1308.2,1167.3 L1311.1,1166.4 L1313.9,1165.5 L1316.8,1164.6 L1319.7,1163.7 L1322.5,1162.7 L1325.4,1161.8 L1328.2,1160.9 L1331.1,1160.0 L1334.0,1159.1 L1336.8,1158.2 L1339.7,1157.4 L1342.6,1156.5 L1345.4,1155.6 L1348.3,1154.7 L1351.2,1153.8 L1354.0,1153.0 L1356.9,1152.1 L1359.8,1151.3 L1362.7,1150.4 L1365.6,1149.6 L1368.4,1148.8 L1371.3,1147.9 L1374.2,1147.1 L1377.1,1146.3 L1380.0,1145.5 L1382.9,1144.7 L1385.8,1144.0 L1388.7,1143.2 L1391.6,1142.5 L1394.5,1141.7 L1397.4,1141.0 L1400.3,1140.3 L1403.2,1139.6 L1406.2,1138.9 L1409.1,1138.2 L1412.0,1137.5 L1414.9,1136.9 L1417.9,1136.2 L1420.8,1135.6 L1423.7,1134.9 L1426.7,1134.3 L1429.6,1133.7 L1432.5,1133.1 L1435.5,1132.5 L1438.4,1131.9 L1441.4,1131.4 L1444.3,1130.8 L1447.3,1130.3 L1450.2,1129.7 L1453.2,1129.2 L1456.1,1128.7 L1459.1,1128.1 L1462.0,1127.6 L1465.0,1127.1 L1467.9,1126.6 L1470.9,1126.1 L1473.9,1125.6 L1476.8,1125.2 L1479.8,1124.7 L1482.7,1124.2 L1485.7,1123.7 L1488.7,1123.3 L1491.6,1122.8 L1494.6,1122.3 L1497.6,1121.9 L1500.5,1121.4 L1503.5,1120.9 L1506.5,1120.5 L1509.4,1120.0 L1512.4,1119.6 L1515.4,1119.1 L1518.3,1118.7 L1521.3,1118.2 L1524.3,1117.8 L1527.2,1117.3 L1530.2,1116.9 L1533.2,1116.4 L1536.1,1116.0 L1539.1,1115.6 L1542.1,1115.2 L1545.1,1114.8 L1548.0,1114.4 L1551.0,1114.0 L1554.0,1113.6 L1557.0,1113.2 L1559.9,1112.9 L1562.9,1112.5 L1565.9,1112.2 L1568.9,1111.9 L1571.9,1111.5 L1574.8,1111.2 L1577.8,1110.9 L1580.8,1110.6 L1583.8,1110.3 L1586.8,1110.0 L1589.8,1109.7 L1592.8,1109.5 L1595.7,1109.2 L1598.7,1109.0 L1601.7,1108.8 L1604.7,1108.6 L1607.7,1108.4 L1610.7,1108.2 L1613.7,1108.0 L1616.7,1107.8 L1619.7,1107.7 L1622.7,1107.6 L1625.7,1107.5 L1628.7,1107.4 L1631.7,1107.3 L1634.7,1107.2 L1637.7,1107.1 L1640.7,1107.1 L1643.7,1107.1 L1646.7,1107.0 L1649.7,1107.0 L1652.7,1107.0 L1655.7,1107.0 L1658.7,1107.0 L1661.7,1107.1 L1664.7,1107.1 L1667.7,1107.1 L1670.7,1107.2 L1673.7,1107.2 L1676.7,1107.3 L1679.7,1107.3 L1682.7,1107.4 L1685.7,1107.5 L1688.7,1107.6 L1691.6,1107.7 L1694.6,1107.8 L1697.6,1107.9 L1700.6,1108.1 L1703.6,1108.2 L1706.6,1108.4 L1709.6,1108.6 L1712.6,1108.8 L1715.6,1109.1 L1718.6,1109.4 L1721.5,1109.7 L1724.5,1110.0 L1727.5,1110.3 L1730.5,1110.7 L1733.4,1111.1 L1736.4,1111.5 L1739.4,1112.0 L1742.3,1112.4 L1745.3,1112.9 L1748.2,1113.5 L1751.2,1114.0 L1754.1,1114.6 L1757.0,1115.2 L1760.0,1115.8 L1762.9,1116.5 L1765.8,1117.1 L1768.7,1117.8 L1771.6,1118.6 L1774.5,1119.3 L1777.4,1120.1 L1780.3,1120.9 L1783.1,1121.8 L1786.0,1122.6 L1788.9,1123.5 L1791.7,1124.4 L1794.6,1125.3 L1797.4,1126.3 L1800.3,1127.2 L1803.1,1128.2 L1805.9,1129.2 L1808.8,1130.1 L1811.6,1131.1 L1814.4,1132.1 L1817.3,1133.1 L1820.1,1134.2 L1822.9,1135.2 L1825.7,1136.2 L1828.5,1137.3 L1831.3,1138.3 L1834.2,1139.4 L1837.0,1140.4 L1839.8,1141.5 L1842.6,1142.6 L1845.4,1143.7 L1848.2,1144.8 L1850.9,1145.8 L1853.7,1146.9 L1856.5,1148.0 L1859.3,1149.1 L1862.1,1150.2 L1864.9,1151.3 L1867.7,1152.4 L1870.5,1153.5 L1873.3,1154.6 L1876.1,1155.7 L1878.9,1156.8 L1881.7,1157.9 L1884.5,1158.9 L1887.3,1160.0 L1890.1,1161.0 L1892.9,1162.1 L1895.7,1163.1 L1898.6,1164.1 L1901.4,1165.1 L1904.2,1166.1 L1907.1,1167.1 L1909.9,1168.0 L1912.7,1168.9 L1915.6,1169.9 L1918.5,1170.8 L1921.3,1171.7 L1924.2,1172.6 L1927.1,1173.4 L1929.9,1174.3 L1932.8,1175.1 L1935.7,1175.9 L1938.6,1176.7 L1941.5,1177.5 L1944.4,1178.3 L1947.3,1179.1 L1950.2,1179.8 L1953.1,1180.5 L1956.0,1181.3 L1958.9,1181.9 L1961.8,1182.6 L1964.8,1183.3 L1967.7,1183.9 L1970.6,1184.5 L1973.6,1185.1 L1976.5,1185.6 L1979.4,1186.2 L1982.4,1186.7 L1985.4,1187.2 L1988.3,1187.7 L1991.3,1188.1 L1994.2,1188.6 L1997.2,1189.0 L2000.2,1189.3 L2003.1,1189.7 L2006.1,1190.0 L2009.1,1190.3 L2012.1,1190.6 L2015.1,1190.9 L2018.0,1191.1 L2021.0,1191.3 L2024.0,1191.5 L2027.0,1191.7 L2029.9,1191.8 L2032.9,1192.0 L2035.8,1192.1 L2038.7,1192.2 L2041.6,1192.3 L2044.5,1192.4 L2047.4,1192.5 L2050.3,1192.6 L2053.2,1192.7 L2056.0,1192.7 L2058.9,1192.8 L2061.8,1192.8 L2064.8,1192.9 L2067.8,1192.9 L2070.8,1192.9 L2073.8,1193.0 L2076.5,1193.0 L2080.0,1193.0"/>
<path class="c" stroke="#008000" stroke-width="17.5" d="M167.0,898.5 L170.8,898.2 L173.3,898.1 L176.1,897.9 L179.0,897.7 L182.0,897.5 L185.0,897.3 L188.0,897.1 L191.0,896.8 L193.9,896.6 L196.9,896.4 L199.9,896.2 L202.9,895.9 L205.9,895.7 L208.9,895.5 L211.9,895.2 L214.9,895.0 L217.9,894.8 L220.9,894.6 L223.9,894.3 L226.9,894.1 L229.8,893.9 L232.8,893.6 L235.8,893.4 L238.8,893.2 L241.8,892.9 L244.8,892.6 L247.8,892.4 L250.8,892.1 L253.8,891.7 L256.7,891.4 L259.7,891.0 L262.7,890.5 L265.6,890.1 L268.6,889.5 L271.5,888.9 L274.5,888.3 L277.4,887.6 L280.3,886.8 L283.2,886.0 L286.0,885.2 L288.9,884.2 L291.7,883.2 L294.5,882.1 L297.2,880.9 L299.9,879.6 L302.5,878.1 L305.1,876.6 L307.7,875.0 L310.2,873.4 L312.6,871.6 L315.0,869.8 L317.3,867.9 L319.5,865.9 L321.7,863.8 L323.7,861.6 L325.7,859.4 L327.6,857.1 L329.5,854.8 L331.3,852.4 L333.1,850.0 L334.9,847.5 L336.5,845.0 L338.1,842.5 L339.7,839.9 L341.1,837.3 L342.6,834.7 L344.0,832.0 L345.4,829.4 L346.7,826.7 L348.0,824.0 L349.3,821.3 L350.6,818.6 L351.9,815.9 L353.1,813.1 L354.3,810.4 L355.5,807.6 L356.7,804.9 L357.9,802.1 L359.0,799.3 L360.2,796.6 L361.3,793.8 L362.5,791.0 L363.6,788.2 L364.8,785.5 L366.0,782.7 L367.1,780.0 L368.3,777.2 L369.5,774.4 L370.7,771.7 L371.8,768.9 L373.0,766.1 L374.2,763.4 L375.4,760.6 L376.6,757.9 L377.8,755.1 L379.0,752.4 L380.2,749.6 L381.4,746.9 L382.7,744.2 L384.0,741.5 L385.3,738.8 L386.6,736.1 L387.9,733.3 L389.1,730.6 L390.4,727.9 L391.7,725.2 L392.9,722.4 L394.0,719.7 L395.2,716.9 L396.3,714.1 L397.4,711.3 L398.4,708.5 L399.5,705.7 L400.5,702.9 L401.5,700.0 L402.5,697.2 L403.5,694.4 L404.4,691.5 L405.4,688.7 L406.4,685.8 L407.3,683.0 L408.3,680.2 L409.2,677.3 L410.2,674.5 L411.1,671.6 L412.0,668.7 L412.9,665.9 L413.8,663.0 L414.7,660.2 L415.6,657.3 L416.4,654.4 L417.3,651.5 L418.2,648.7 L419.1,645.8 L419.9,642.9 L420.8,640.1 L421.8,637.2 L422.7,634.4 L423.6,631.5 L424.6,628.7 L425.6,625.8 L426.6,623.0 L427.7,620.2 L428.7,617.4 L429.8,614.6 L430.8,611.8 L431.9,609.0 L433.0,606.2 L434.2,603.4 L435.3,600.6 L436.5,597.9 L437.7,595.1 L438.9,592.4 L440.2,589.7 L441.5,587.0 L442.8,584.3 L444.1,581.6 L445.5,578.9 L446.9,576.3 L448.3,573.6 L449.8,571.0 L451.3,568.4 L452.9,565.9 L454.5,563.4 L456.2,560.9 L458.0,558.5 L459.8,556.1 L461.6,553.7 L463.6,551.4 L465.6,549.3 L467.8,547.2 L470.0,545.2 L472.4,543.4 L474.9,541.7 L477.4,540.3 L480.1,539.2 L482.8,538.7 L485.5,538.9 L488.2,539.7 L490.6,541.1 L492.9,542.9 L495.0,545.0 L496.8,547.3 L498.5,549.8 L499.9,552.4 L501.1,555.1 L502.2,557.9 L503.2,560.8 L504.1,563.6 L505.0,566.5 L505.8,569.3 L506.7,572.2 L507.5,575.1 L508.3,578.0 L509.0,580.9 L509.8,583.8 L510.5,586.7 L511.1,589.7 L511.8,592.6 L512.4,595.5 L513.0,598.5 L513.7,601.4 L514.3,604.3 L514.9,607.3 L515.5,610.2 L516.1,613.2 L516.7,616.1 L517.3,619.0 L517.9,622.0 L518.5,624.9 L519.1,627.8 L519.7,630.8 L520.3,633.7 L520.9,636.7 L521.5,639.6 L522.1,642.6 L522.7,645.5 L523.3,648.4 L523.9,651.4 L524.5,654.3 L525.0,657.3 L525.6,660.2 L526.2,663.2 L526.8,666.1 L527.3,669.1 L527.9,672.0 L528.4,675.0 L529.0,677.9 L529.5,680.9 L530.1,683.8 L530.6,686.8 L531.2,689.7 L531.7,692.7 L532.2,695.6 L532.7,698.6 L533.3,701.5 L533.8,704.5 L534.3,707.4 L534.9,710.4 L535.4,713.3 L535.9,716.3 L536.5,719.2 L537.0,722.2 L537.5,725.2 L538.1,728.1 L538.6,731.1 L539.1,734.0 L539.7,737.0 L540.2,739.9 L540.7,742.9 L541.3,745.8 L541.8,748.8 L542.3,751.7 L542.9,754.7 L543.4,757.6 L543.9,760.6 L544.5,763.5 L545.0,766.5 L545.6,769.4 L546.1,772.4 L546.6,775.3 L547.2,778.3 L547.7,781.3 L548.3,784.2 L548.8,787.2 L549.4,790.1 L549.9,793.1 L550.4,796.0 L551.0,799.0 L551.5,801.9 L552.1,804.9 L552.6,807.8 L553.2,810.8 L553.8,813.7 L554.3,816.6 L554.9,819.6 L555.5,822.5 L556.1,825.5 L556.6,828.4 L557.2,831.4 L557.7,834.3 L558.3,837.3 L558.9,840.2 L559.5,843.2 L560.2,846.1 L560.9,849.0 L561.7,851.9 L562.6,854.7 L563.6,857.5 L564.9,859.9 L566.5,861.9 L568.6,863.1 L571.0,863.4 L573.6,863.1 L576.4,862.3 L579.2,861.4 L582.1,860.5 L585.0,859.7 L587.9,859.0 L590.8,858.4 L593.8,857.9 L596.7,857.4 L599.7,857.1 L602.7,856.9 L605.7,856.7 L608.7,856.6 L611.7,856.7 L614.7,856.8 L617.7,856.9 L620.7,857.1 L623.7,857.4 L626.6,857.7 L629.6,858.0 L632.6,858.5 L635.5,859.0 L638.5,859.6 L641.4,860.2 L644.3,860.9 L647.3,861.6 L650.2,862.3 L653.1,863.1 L655.9,863.9 L658.8,864.8 L661.7,865.6 L664.6,866.4 L667.5,867.2 L670.4,867.9 L673.3,868.6 L676.3,869.2 L679.2,869.7 L682.2,870.3 L685.1,870.8 L688.1,871.3 L691.0,871.8 L694.0,872.2 L697.0,872.7 L700.0,873.1 L702.9,873.5 L705.9,873.8 L708.9,874.2 L711.9,874.5 L714.8,874.8 L717.8,875.1 L720.8,875.4 L723.8,875.7 L726.8,875.9 L729.8,876.2 L732.8,876.4 L735.8,876.6 L738.8,876.8 L741.8,877.0 L744.7,877.3 L747.7,877.5 L750.7,877.6 L753.7,877.8 L756.7,878.0 L759.7,878.2 L762.7,878.4 L765.7,878.5 L768.7,878.7 L771.7,878.8 L774.7,878.9 L777.7,879.1 L780.7,879.2 L783.7,879.3 L786.7,879.4 L789.7,879.5 L792.7,879.7 L795.7,879.8 L798.7,879.8 L801.7,879.9 L804.7,880.0 L807.7,880.1 L810.7,880.2 L813.7,880.3 L816.7,880.3 L819.7,880.4 L822.7,880.5 L825.7,880.5 L828.7,880.6 L831.7,880.7 L834.7,880.7 L837.7,880.8 L840.7,880.8 L843.7,880.9 L846.7,880.9 L849.7,881.0 L852.7,881.0 L855.7,881.1 L858.7,881.1 L861.7,881.2 L864.7,881.2 L867.7,881.2 L870.7,881.3 L873.7,881.3 L876.7,881.3 L879.7,881.3 L882.7,881.4 L885.7,881.4 L888.7,881.4 L891.7,881.4 L894.7,881.4 L897.7,881.4 L900.7,881.5 L903.7,881.5 L906.7,881.5 L909.7,881.5 L912.7,881.5 L915.7,881.5 L918.7,881.5 L921.7,881.5 L924.7,881.5 L927.7,881.5 L930.7,881.5 L933.7,881.5 L936.7,881.5 L939.7,881.4 L942.7,881.4 L945.7,881.4 L948.7,881.4 L951.7,881.4 L954.7,881.4 L957.7,881.4 L960.7,881.4 L963.7,881.4 L966.7,881.4 L969.7,881.4 L972.7,881.4 L975.7,881.4 L978.7,881.3 L981.7,881.3 L984.7,881.3 L987.7,881.3 L990.7,881.3 L993.7,881.3 L996.7,881.3 L999.7,881.3 L1002.7,881.2 L1005.7,881.2 L1008.7,881.2 L1011.7,881.2 L1014.7,881.2 L1017.7,881.2 L1020.7,881.2 L1023.7,881.1 L1026.7,881.1 L1029.7,881.1 L1032.7,881.1 L1035.7,881.1 L1038.7,881.0 L1041.7,881.0 L1044.8,881.0 L1047.8,881.0 L1050.8,880.9 L1053.8,880.9 L1056.8,880.9 L1059.8,880.8 L1062.8,880.8 L1065.8,880.7 L1068.8,880.7 L1071.8,880.6 L1074.8,880.6 L1077.8,880.5 L1080.8,880.5 L1083.8,880.4 L1086.8,880.3 L1089.8,880.2 L1092.8,880.2 L1095.8,880.1 L1098.8,880.0 L1101.8,879.9 L1104.8,879.8 L1107.8,879.7 L1110.8,879.6 L1113.8,879.5 L1116.8,879.4 L1119.8,879.3 L1122.8,879.2 L1125.7,879.1 L1128.7,879.0 L1131.7,878.9 L1134.7,878.8 L1137.7,878.7 L1140.7,878.5 L1143.7,878.4 L1146.7,878.3 L1149.7,878.2 L1152.7,878.1 L1155.7,877.9 L1158.7,877.8 L1161.7,877.7 L1164.7,877.5 L1167.7,877.4 L1170.7,877.3 L1173.7,877.2 L1176.7,877.0 L1179.7,876.9 L1182.7,876.8 L1185.7,876.6 L1188.7,876.5 L1191.7,876.3 L1194.7,876.2 L1197.7,876.1 L1200.7,875.9 L1203.7,875.8 L1206.7,875.6 L1209.7,875.5 L1212.7,875.3 L1215.7,875.2 L1218.7,875.0 L1221.7,874.9 L1224.7,874.7 L1227.7,874.6 L1230.7,874.4 L1233.7,874.2 L1236.7,874.1 L1239.7,873.9 L1242.7,873.7 L1245.7,873.6 L1248.7,873.4 L1251.6,873.2 L1254.6,873.0 L1257.6,872.8 L1260.6,872.7 L1263.6,872.5 L1266.6,872.3 L1269.6,872.1 L1272.6,871.9 L1275.6,871.7 L1278.6,871.5 L1281.6,871.3 L1284.6,871.1 L1287.6,870.9 L1290.6,870.7 L1293.6,870.5 L1296.6,870.3 L1299.6,870.1 L1302.6,869.9 L1305.5,869.7 L1308.5,869.5 L1311.5,869.2 L1314.5,869.0 L1317.5,868.8 L1320.5,868.6 L1323.5,868.4 L1326.5,868.2 L1329.5,868.0 L1332.5,867.7 L1335.5,867.5 L1338.5,867.3 L1341.5,867.1 L1344.5,866.8 L1347.4,866.6 L1350.4,866.4 L1353.4,866.2 L1356.4,865.9 L1359.4,865.7 L1362.4,865.4 L1365.4,865.2 L1368.4,865.0 L1371.4,864.7 L1374.4,864.5 L1377.4,864.2 L1380.4,864.0 L1383.3,863.7 L1386.3,863.5 L1389.3,863.2 L1392.3,863.0 L1395.3,862.7 L1398.3,862.5 L1401.3,862.3 L1404.3,862.0 L1407.3,861.8 L1410.3,861.6 L1413.3,861.3 L1416.2,861.1 L1419.2,860.9 L1422.2,860.7 L1425.2,860.5 L1428.2,860.3 L1431.2,860.1 L1434.2,859.9 L1437.2,859.7 L1440.2,859.6 L1443.2,859.4 L1446.2,859.2 L1449.2,859.0 L1452.2,858.9 L1455.2,858.7 L1458.2,858.6 L1461.2,858.4 L1464.2,858.3 L1467.2,858.1 L1470.2,858.0 L1473.2,857.8 L1476.2,857.7 L1479.2,857.5 L1482.2,857.3 L1485.2,857.2 L1488.1,857.0 L1491.1,856.9 L1494.1,856.7 L1497.1,856.5 L1500.1,856.4 L1503.1,856.2 L1506.1,856.0 L1509.1,855.8 L1512.1,855.7 L1515.1,855.5 L1518.1,855.3 L1521.1,855.1 L1524.1,854.9 L1527.1,854.7 L1530.1,854.5 L1533.1,854.4 L1536.1,854.2 L1539.1,854.0 L1542.1,853.8 L1545.1,853.6 L1548.1,853.5 L1551.1,853.3 L1554.0,853.1 L1557.0,853.0 L1560.0,852.8 L1563.0,852.6 L1566.0,852.5 L1569.0,852.4 L1572.0,852.2 L1575.0,852.1 L1578.0,851.9 L1581.0,851.8 L1584.0,851.7 L1587.0,851.6 L1590.0,851.5 L1593.0,851.4 L1596.0,851.3 L1599.0,851.2 L1602.0,851.1 L1605.0,851.0 L1608.0,850.9 L1611.0,850.9 L1614.0,850.8 L1617.0,850.8 L1620.0,850.7 L1623.0,850.7 L1626.0,850.7 L1629.0,850.7 L1632.0,850.7 L1635.0,850.7 L1638.0,850.8 L1641.0,850.8 L1644.0,850.9 L1647.0,851.0 L1650.0,851.1 L1653.0,851.2 L1656.0,851.4 L1659.0,851.5 L1662.0,851.7 L1665.0,851.9 L1667.9,852.1 L1670.9,852.4 L1673.9,852.6 L1676.9,852.9 L1679.9,853.2 L1682.9,853.5 L1685.8,853.9 L1688.8,854.3 L1691.8,854.6 L1694.8,855.0 L1697.7,855.5 L1700.7,855.9 L1703.7,856.3 L1706.6,856.8 L1709.6,857.3 L1712.5,857.8 L1715.5,858.3 L1718.5,858.8 L1721.4,859.3 L1724.4,859.8 L1727.3,860.3 L1730.3,860.9 L1733.2,861.4 L1736.2,862.0 L1739.1,862.5 L1742.1,863.1 L1745.0,863.6 L1748.0,864.2 L1750.9,864.8 L1753.9,865.4 L1756.8,865.9 L1759.7,866.5 L1762.7,867.1 L1765.6,867.7 L1768.6,868.3 L1771.5,868.9 L1774.5,869.4 L1777.4,870.0 L1780.3,870.6 L1783.3,871.2 L1786.2,871.7 L1789.2,872.3 L1792.1,872.9 L1795.1,873.4 L1798.0,874.0 L1801.0,874.5 L1803.9,875.1 L1806.9,875.6 L1809.8,876.1 L1812.8,876.6 L1815.8,877.1 L1818.7,877.6 L1821.7,878.1 L1824.6,878.6 L1827.6,879.1 L1830.6,879.6 L1833.5,880.0 L1836.5,880.5 L1839.5,880.9 L1842.4,881.3 L1845.4,881.7 L1848.4,882.1 L1851.3,882.5 L1854.3,882.9 L1857.3,883.3 L1860.3,883.7 L1863.3,884.0 L1866.2,884.4 L1869.2,884.7 L1872.2,885.0 L1875.2,885.4 L1878.2,885.7 L1881.1,886.0 L1884.1,886.3 L1887.1,886.6 L1890.1,886.9 L1893.1,887.1 L1896.1,887.4 L1899.1,887.6 L1902.1,887.9 L1905.1,888.1 L1908.0,888.4 L1911.0,888.6 L1914.0,888.8 L1917.0,889.0 L1920.0,889.2 L1923.0,889.4 L1926.0,889.5 L1929.0,889.7 L1932.0,889.9 L1935.0,890.0 L1938.0,890.2 L1941.0,890.3 L1944.0,890.4 L1947.0,890.6 L1950.0,890.7 L1953.0,890.8 L1956.0,890.9 L1959.0,890.9 L1962.0,891.0 L1965.0,891.1 L1968.0,891.1 L1971.0,891.2 L1974.0,891.2 L1977.0,891.3 L1980.0,891.3 L1983.0,891.3 L1986.0,891.3 L1989.0,891.3 L1992.0,891.4 L1995.0,891.4 L1998.0,891.4 L2001.0,891.4 L2004.0,891.4 L2007.0,891.4 L2010.0,891.4 L2013.0,891.4 L2016.0,891.4 L2019.0,891.4 L2022.0,891.4 L2024.9,891.4 L2027.9,891.4 L2030.9,891.3 L2033.8,891.3 L2036.8,891.3 L2039.7,891.3 L2042.6,891.3 L2045.5,891.3 L2048.4,891.2 L2051.3,891.2 L2054.1,891.2 L2057.0,891.2 L2059.9,891.1 L2062.8,891.1 L2065.8,891.0 L2068.8,890.9 L2071.9,890.9 L2074.8,890.8 L2077.3,890.8 L2080.0,890.7"/>
<path class="c" stroke="#ff8000" stroke-width="17.5" d="M166.0,513.8 L169.8,513.7 L172.3,513.6 L175.1,513.6 L178.0,513.5 L181.0,513.4 L184.0,513.3 L187.0,513.2 L190.0,513.1 L193.0,513.0 L196.0,512.9 L199.0,512.8 L202.0,512.7 L205.0,512.6 L208.0,512.5 L211.0,512.4 L214.0,512.3 L217.0,512.2 L220.0,512.1 L223.0,512.0 L226.0,511.8 L229.0,511.7 L232.0,511.6 L235.0,511.5 L238.0,511.3 L241.0,511.2 L244.0,511.1 L246.9,511.0 L249.9,510.8 L252.9,510.7 L255.9,510.5 L258.9,510.4 L261.9,510.2 L264.9,510.0 L267.9,509.7 L270.9,509.5 L273.9,509.1 L276.9,508.8 L279.8,508.4 L282.8,507.9 L285.7,507.4 L288.7,506.9 L291.6,506.3 L294.6,505.7 L297.5,505.0 L300.4,504.3 L303.3,503.5 L306.2,502.7 L309.0,501.7 L311.8,500.7 L314.6,499.5 L317.3,498.3 L320.1,497.1 L322.8,495.8 L325.5,494.5 L328.1,493.1 L330.8,491.7 L333.4,490.2 L336.0,488.7 L338.5,487.1 L341.0,485.4 L343.5,483.7 L345.9,482.0 L348.3,480.1 L350.6,478.2 L352.9,476.3 L355.1,474.3 L357.2,472.2 L359.3,470.0 L361.3,467.8 L363.2,465.5 L365.0,463.1 L366.7,460.7 L368.3,458.1 L369.7,455.5 L371.1,452.8 L372.4,450.1 L373.7,447.4 L374.9,444.7 L376.1,441.9 L377.4,439.2 L378.6,436.4 L379.7,433.7 L380.9,430.9 L382.0,428.1 L383.1,425.3 L384.2,422.6 L385.3,419.8 L386.4,417.0 L387.4,414.1 L388.4,411.3 L389.4,408.5 L390.4,405.7 L391.4,402.8 L392.3,400.0 L393.2,397.1 L394.1,394.2 L394.9,391.3 L395.6,388.4 L396.4,385.5 L397.2,382.7 L398.0,379.8 L398.9,376.9 L399.9,374.1 L400.8,371.2 L401.9,368.4 L403.0,365.6 L404.3,362.9 L405.6,360.3 L407.2,357.7 L408.9,355.3 L410.7,352.9 L412.7,350.7 L414.8,348.6 L417.0,346.5 L419.3,344.6 L421.6,342.7 L423.9,340.8 L426.4,339.1 L428.8,337.4 L431.3,335.7 L433.7,333.9 L436.0,332.0 L438.1,329.9 L440.0,327.7 L441.8,325.3 L443.4,322.8 L444.9,320.2 L446.2,317.5 L447.4,314.7 L448.5,312.0 L449.5,309.1 L450.5,306.3 L451.5,303.5 L452.4,300.6 L453.4,297.8 L454.3,294.9 L455.2,292.1 L456.1,289.2 L457.1,286.4 L457.9,283.5 L458.8,280.6 L459.7,277.8 L460.6,274.9 L461.5,272.0 L462.3,269.1 L463.1,266.2 L463.8,263.3 L464.6,260.4 L465.3,257.5 L465.9,254.6 L466.5,251.6 L467.1,248.7 L467.7,245.8 L468.3,242.8 L468.9,239.9 L469.5,236.9 L470.1,234.0 L470.6,231.1 L471.2,228.1 L471.8,225.2 L472.3,222.2 L472.9,219.3 L473.4,216.3 L474.0,213.4 L474.5,210.4 L475.1,207.5 L475.7,204.5 L476.2,201.6 L476.8,198.6 L477.3,195.7 L477.9,192.7 L478.5,189.8 L479.1,186.8 L479.7,183.9 L480.3,181.0 L480.9,178.0 L481.5,175.1 L482.2,172.2 L482.9,169.3 L483.5,166.3 L484.3,163.4 L485.0,160.5 L485.8,157.6 L486.6,154.7 L487.5,151.9 L488.3,149.0 L489.2,146.1 L490.0,143.2 L490.9,140.4 L491.8,137.5 L492.6,134.6 L493.5,131.7 L494.3,128.9 L495.2,126.0 L496.0,123.1 L496.9,120.3 L497.9,117.4 L498.9,114.6 L500.0,111.8 L501.1,109.0 L502.3,106.3 L503.6,103.6 L505.0,100.9 L506.5,98.3 L508.1,95.8 L509.9,93.4 L511.9,91.2 L514.0,89.1 L516.3,87.2 L518.7,85.5 L521.2,84.1 L523.9,83.2 L526.6,82.8 L529.3,83.2 L531.8,84.2 L534.2,85.8 L536.4,87.7 L538.5,89.8 L540.5,92.1 L542.4,94.4 L544.2,96.8 L546.0,99.2 L547.8,101.6 L549.6,104.0 L551.4,106.4 L553.2,108.8 L554.9,111.2 L556.6,113.7 L558.1,116.3 L559.6,118.9 L561.0,121.5 L562.4,124.2 L563.6,126.9 L564.9,129.6 L566.1,132.4 L567.3,135.1 L568.5,137.9 L569.6,140.7 L570.7,143.5 L571.8,146.3 L572.8,149.1 L573.9,151.9 L574.8,154.7 L575.8,157.6 L576.8,160.4 L577.7,163.3 L578.6,166.1 L579.5,169.0 L580.3,171.9 L581.2,174.7 L582.0,177.6 L582.8,180.5 L583.6,183.4 L584.4,186.3 L585.2,189.2 L586.0,192.1 L586.7,195.0 L587.5,197.9 L588.2,200.8 L589.0,203.7 L589.7,206.6 L590.3,209.6 L591.0,212.5 L591.6,215.4 L592.2,218.4 L592.7,221.3 L593.3,224.3 L593.8,227.2 L594.3,230.2 L594.8,233.1 L595.4,236.1 L595.9,239.0 L596.4,242.0 L596.9,244.9 L597.5,247.9 L598.0,250.8 L598.5,253.8 L599.0,256.8 L599.6,259.7 L600.1,262.7 L600.6,265.6 L601.1,268.6 L601.6,271.5 L602.0,274.5 L602.5,277.5 L603.0,280.4 L603.5,283.4 L603.9,286.4 L604.3,289.3 L604.8,292.3 L605.2,295.3 L605.6,298.2 L606.0,301.2 L606.4,304.2 L606.8,307.2 L607.2,310.1 L607.6,313.1 L608.0,316.1 L608.5,319.0 L608.9,322.0 L609.3,325.0 L609.7,328.0 L610.1,330.9 L610.6,333.9 L611.0,336.9 L611.4,339.8 L611.8,342.8 L612.2,345.8 L612.6,348.7 L613.1,351.7 L613.5,354.7 L613.9,357.7 L614.2,360.6 L614.6,363.6 L615.0,366.6 L615.4,369.6 L615.7,372.5 L616.1,375.5 L616.4,378.5 L616.8,381.5 L617.1,384.5 L617.5,387.4 L617.8,390.4 L618.2,393.4 L618.5,396.4 L618.8,399.4 L619.2,402.3 L619.6,405.3 L620.0,408.3 L620.4,411.3 L620.9,414.2 L621.4,417.2 L622.0,420.1 L622.6,423.1 L623.2,426.0 L623.8,428.9 L624.5,431.9 L625.1,434.8 L625.7,437.7 L626.4,440.7 L627.0,443.6 L627.6,446.5 L628.3,449.5 L628.9,452.4 L629.6,455.3 L630.2,458.2 L630.9,461.1 L631.6,464.1 L632.4,467.0 L633.1,469.9 L633.9,472.8 L634.6,475.7 L635.5,478.6 L636.4,481.4 L637.4,484.3 L638.4,487.1 L639.5,489.8 L640.8,492.5 L642.2,495.1 L643.8,497.6 L645.8,499.7 L648.0,501.5 L650.6,503.0 L653.3,504.0 L656.1,504.8 L659.0,505.3 L662.0,505.6 L665.0,505.8 L668.0,505.9 L671.0,506.0 L674.0,506.0 L677.0,506.1 L680.0,506.1 L683.0,506.1 L686.0,506.1 L689.0,506.1 L692.0,506.2 L695.0,506.2 L698.0,506.2 L701.0,506.2 L704.0,506.2 L707.0,506.3 L710.0,506.3 L713.0,506.3 L716.0,506.3 L719.0,506.3 L722.0,506.4 L725.0,506.4 L728.0,506.4 L731.0,506.4 L734.0,506.4 L737.0,506.5 L740.0,506.5 L743.0,506.5 L746.0,506.5 L749.0,506.5 L752.0,506.5 L755.0,506.5 L758.0,506.6 L761.0,506.6 L764.0,506.6 L767.0,506.6 L770.0,506.6 L773.0,506.6 L776.0,506.6 L779.0,506.7 L782.0,506.7 L785.0,506.7 L788.0,506.7 L791.0,506.7 L794.0,506.7 L797.0,506.7 L800.0,506.7 L803.0,506.7 L806.0,506.8 L809.0,506.8 L812.0,506.8 L815.0,506.8 L818.0,506.8 L821.0,506.8 L824.0,506.8 L827.0,506.8 L830.0,506.8 L833.0,506.8 L836.0,506.8 L839.0,506.8 L842.0,506.9 L845.0,506.9 L848.0,506.9 L851.0,506.9 L854.0,506.9 L857.0,506.9 L860.0,506.9 L863.0,506.9 L866.0,506.9 L869.0,506.9 L872.0,506.9 L875.0,506.9 L878.0,506.9 L881.0,506.9 L884.0,506.9 L887.0,506.9 L890.0,506.9 L893.0,506.9 L896.0,506.9 L899.0,507.0 L902.0,507.0 L905.0,507.0 L908.0,507.0 L911.0,507.0 L914.0,507.0 L917.0,507.0 L920.0,507.0 L923.0,507.0 L926.0,507.0 L929.0,507.0 L932.0,507.0 L935.0,507.0 L938.0,507.0 L941.0,507.0 L944.0,507.0 L947.0,507.0 L950.0,507.0 L953.0,507.0 L956.0,507.0 L959.0,507.0 L962.0,507.0 L965.0,507.0 L968.0,507.0 L971.0,507.0 L974.0,507.0 L977.0,507.0 L980.0,507.0 L983.0,507.0 L986.0,507.0 L989.0,507.0 L992.0,507.0 L995.0,507.0 L998.0,507.0 L1001.0,507.0 L1004.0,507.0 L1007.0,507.0 L1010.0,507.0 L1013.0,507.0 L1016.0,507.0 L1019.0,507.0 L1022.0,507.0 L1025.0,507.0 L1028.0,507.0 L1031.0,507.0 L1034.0,507.0 L1037.0,507.0 L1040.0,507.0 L1043.0,507.0 L1046.0,507.0 L1049.0,507.0 L1052.0,507.0 L1055.0,507.0 L1058.0,507.0 L1061.0,507.0 L1064.0,507.0 L1067.0,507.0 L1070.0,507.0 L1073.0,507.0 L1076.0,507.0 L1079.0,507.0 L1082.0,507.0 L1085.0,507.0 L1088.0,507.0 L1091.0,507.0 L1094.0,507.0 L1097.0,507.0 L1100.0,507.0 L1103.0,507.0 L1106.0,507.0 L1109.0,507.0 L1112.0,507.0 L1115.0,507.0 L1118.0,507.0 L1121.0,507.0 L1124.0,507.0 L1127.0,507.0 L1130.0,507.0 L1133.0,507.0 L1136.0,507.0 L1139.0,507.0 L1142.0,507.0 L1145.0,507.0 L1148.0,507.0 L1151.0,507.0 L1154.0,507.0 L1157.0,507.0 L1160.0,507.0 L1163.0,507.0 L1166.0,507.0 L1169.0,507.0 L1172.0,507.0 L1175.0,507.0 L1178.0,507.0 L1181.0,507.0 L1184.0,507.0 L1187.0,507.0 L1190.0,507.0 L1193.0,507.0 L1196.0,507.0 L1199.0,507.0 L1202.0,507.0 L1205.0,507.0 L1208.0,507.0 L1211.0,507.0 L1214.0,507.0 L1217.0,507.0 L1220.0,507.0 L1223.0,507.0 L1226.0,507.0 L1229.0,507.0 L1232.0,507.0 L1235.0,507.0 L1238.0,507.0 L1241.0,507.0 L1244.0,507.0 L1247.0,507.0 L1250.0,507.0 L1253.0,507.0 L1256.0,507.0 L1259.0,507.0 L1262.0,507.0 L1265.0,507.0 L1268.0,507.0 L1271.0,507.0 L1274.0,507.0 L1277.0,507.0 L1280.0,507.0 L1283.0,507.0 L1286.0,507.0 L1289.0,507.0 L1292.0,507.0 L1295.0,507.0 L1298.0,507.0 L1301.0,507.0 L1304.0,507.0 L1307.0,507.0 L1310.0,507.0 L1313.0,507.0 L1316.0,507.0 L1319.0,507.0 L1322.0,507.0 L1325.0,507.0 L1328.0,507.0 L1331.0,507.0 L1334.0,507.0 L1337.0,507.0 L1340.0,507.0 L1343.0,507.0 L1346.0,507.0 L1349.0,507.0 L1352.0,507.0 L1355.0,507.0 L1358.0,507.0 L1361.0,507.0 L1364.0,507.0 L1367.0,507.0 L1370.0,507.0 L1373.0,507.0 L1376.0,507.0 L1379.0,507.0 L1382.0,507.0 L1385.0,507.0 L1388.0,507.0 L1391.0,507.0 L1394.0,507.0 L1397.0,507.0 L1400.0,507.0 L1403.0,507.0 L1406.0,507.0 L1409.0,507.0 L1412.0,507.0 L1415.0,507.0 L1418.0,507.0 L1421.0,507.0 L1424.0,507.0 L1427.0,507.0 L1430.0,507.0 L1433.0,507.0 L1436.0,507.0 L1439.0,507.0 L1442.0,507.0 L1445.0,507.0 L1448.0,507.0 L1451.0,507.0 L1454.0,507.0 L1457.0,507.0 L1460.0,507.0 L1463.0,507.0 L1466.0,507.0 L1469.0,507.0 L1472.0,507.0 L1475.0,507.0 L1478.0,507.0 L1481.0,507.0 L1484.0,507.0 L1487.0,507.0 L1490.0,507.0 L1493.0,507.0 L1496.0,507.0 L1499.0,507.0 L1502.0,507.0 L1505.0,507.0 L1508.0,507.0 L1511.0,507.0 L1514.0,507.0 L1517.0,507.0 L1520.0,507.0 L1523.0,507.0 L1526.0,507.0 L1529.0,507.0 L1532.0,507.0 L1535.0,507.0 L1538.0,507.0 L1541.0,507.0 L1544.0,507.0 L1547.0,507.0 L1550.0,507.0 L1553.0,507.0 L1556.0,507.0 L1559.0,507.0 L1562.0,507.0 L1565.0,507.0 L1568.0,507.0 L1571.0,507.0 L1574.0,507.0 L1577.0,507.0 L1580.0,507.0 L1583.0,507.0 L1586.0,507.0 L1589.0,507.0 L1592.0,507.0 L1595.0,507.0 L1598.0,507.0 L1601.0,507.0 L1604.0,507.0 L1607.0,507.0 L1610.0,507.0 L1613.0,507.0 L1616.0,507.0 L1619.0,507.0 L1622.0,507.0 L1625.0,507.0 L1628.0,507.0 L1631.0,507.0 L1634.0,507.0 L1637.0,507.0 L1640.0,507.0 L1643.0,507.0 L1646.0,507.0 L1649.0,507.0 L1652.0,507.0 L1655.0,507.0 L1658.0,506.9 L1661.0,506.9 L1664.0,506.9 L1667.0,506.9 L1670.0,506.9 L1673.0,506.9 L1676.0,506.9 L1679.0,506.9 L1682.0,506.9 L1685.0,506.9 L1688.0,506.9 L1691.0,506.9 L1694.0,506.9 L1697.0,506.9 L1700.0,506.9 L1703.0,506.9 L1706.0,506.9 L1709.0,506.9 L1712.0,506.9 L1715.0,506.9 L1718.0,506.9 L1721.0,506.9 L1724.0,506.9 L1727.0,506.9 L1730.0,506.9 L1733.0,506.9 L1736.0,506.9 L1739.0,506.9 L1742.0,506.9 L1745.0,506.9 L1748.0,506.9 L1751.0,506.9 L1754.0,506.9 L1757.0,506.9 L1760.0,506.9 L1763.0,506.9 L1766.0,506.9 L1769.0,506.9 L1772.0,506.9 L1775.0,506.9 L1778.0,506.9 L1781.0,506.9 L1784.0,506.9 L1787.0,506.8 L1790.0,506.8 L1793.0,506.8 L1796.0,506.8 L1799.0,506.8 L1802.0,506.8 L1805.0,506.8 L1808.0,506.8 L1811.0,506.8 L1814.0,506.8 L1817.0,506.8 L1820.0,506.8 L1823.0,506.8 L1826.0,506.8 L1829.0,506.8 L1832.0,506.8 L1835.0,506.8 L1838.0,506.8 L1841.0,506.8 L1844.0,506.8 L1847.0,506.8 L1850.0,506.8 L1853.0,506.8 L1856.0,506.8 L1859.0,506.8 L1862.0,506.8 L1865.0,506.8 L1868.0,506.8 L1871.0,506.8 L1874.0,506.8 L1877.0,506.8 L1880.0,506.8 L1883.0,506.7 L1886.0,506.7 L1889.0,506.7 L1892.0,506.7 L1895.0,506.7 L1898.0,506.7 L1901.0,506.7 L1904.0,506.7 L1907.0,506.7 L1910.0,506.7 L1913.0,506.7 L1916.0,506.7 L1919.0,506.7 L1922.0,506.7 L1925.0,506.7 L1928.0,506.7 L1931.0,506.7 L1934.0,506.7 L1937.0,506.7 L1940.0,506.7 L1943.0,506.7 L1946.0,506.7 L1949.0,506.7 L1952.0,506.7 L1955.0,506.7 L1958.0,506.7 L1961.0,506.7 L1964.0,506.6 L1967.0,506.6 L1970.0,506.6 L1973.0,506.6 L1976.0,506.6 L1979.0,506.6 L1982.0,506.6 L1985.0,506.6 L1988.0,506.6 L1991.0,506.6 L1994.0,506.6 L1997.0,506.6 L2000.0,506.6 L2003.0,506.6 L2006.0,506.6 L2009.0,506.6 L2012.0,506.6 L2015.0,506.6 L2018.0,506.6 L2021.0,506.6 L2024.0,506.6 L2026.9,506.6 L2029.9,506.6 L2032.9,506.6 L2035.8,506.6 L2038.7,506.6 L2041.6,506.6 L2044.5,506.5 L2047.4,506.5 L2050.3,506.5 L2053.2,506.5 L2056.0,506.5 L2058.9,506.5 L2061.8,506.5 L2064.8,506.5 L2067.8,506.5 L2070.8,506.5 L2073.8,506.5 L2076.5,506.5 L2080.0,506.5"/>
</g>
<path d="M529.5,74.4 L529.5,1612" stroke="#000" stroke-width="7" fill="none" stroke-linecap="round" stroke-dasharray="23 29.28"/>
<g id="ticklabels">
<text class="tick" transform="translate(79.7,2310.8) scale(1,1.04)">100</text>
<text class="tick" transform="translate(398.2,2310.8) scale(1,1.04)">200</text>
<text class="tick" transform="translate(716.7,2310.8) scale(1,1.04)">300</text>
<text class="tick" transform="translate(1035.2,2310.8) scale(1,1.04)">400</text>
<text class="tick" transform="translate(1353.7,2310.8) scale(1,1.04)">500</text>
<text class="tick" transform="translate(1672.2,2310.8) scale(1,1.04)">600</text>
<text class="tick" transform="translate(1990.7,2310.8) scale(1,1.04)">700</text>
</g>
<text class="title" transform="translate(662.7,2491) scale(1,1.025)">Temperature (<tspan class="deg" x="730.7" dy="8.9">°</tspan><tspan x="781" dy="-8.9">C)</tspan></text>
<text class="title" transform="translate(98.95,1638.3) rotate(-90) scale(1,1.025)" style="font-size:110.9px">Intensity (a.u.)</text>
<g id="labels">
<text class="lab" transform="translate(1462.30,371.30) scale(1,1.02)"><tspan x="0.00" y="0">Cu</tspan><tspan class="sub" x="133.30" y="34.80" textLength="64.90" lengthAdjust="spacingAndGlyphs">20</tspan><tspan x="198.20" y="0">/</tspan><tspan x="225.08" y="0">m-SiO</tspan><tspan class="fin" x="520.37" y="37.45" textLength="54.29" lengthAdjust="spacingAndGlyphs">2</tspan></text>
<text class="lab" transform="translate(1334.00,723.30) scale(1,1.02)"><tspan x="0.00" y="0">Ni</tspan><tspan class="sub" x="100.00" y="34.80" textLength="32.45" lengthAdjust="spacingAndGlyphs">5</tspan><tspan x="132.45" y="0">Cu</tspan><tspan class="sub" x="265.75" y="34.80" textLength="64.90" lengthAdjust="spacingAndGlyphs">15</tspan><tspan x="330.65" y="0">/</tspan><tspan x="357.53" y="0">m-SiO</tspan><tspan class="fin" x="652.82" y="37.45" textLength="54.29" lengthAdjust="spacingAndGlyphs">2</tspan></text>
<text class="lab" transform="translate(1295.20,1040.90) scale(1,1.02)"><tspan x="0.00" y="0">Ni</tspan><tspan class="sub" x="100.00" y="34.80" textLength="64.90" lengthAdjust="spacingAndGlyphs">10</tspan><tspan x="164.90" y="0">Cu</tspan><tspan class="sub" x="298.20" y="34.80" textLength="64.90" lengthAdjust="spacingAndGlyphs">10</tspan><tspan x="363.10" y="0">/</tspan><tspan x="389.98" y="0">m-SiO</tspan><tspan class="fin" x="685.27" y="37.45" textLength="54.29" lengthAdjust="spacingAndGlyphs">2</tspan></text>
<text class="lab" transform="translate(1328.20,1376.70) scale(1,1.02)"><tspan x="0.00" y="0">Ni</tspan><tspan class="sub" x="100.00" y="34.80" textLength="64.90" lengthAdjust="spacingAndGlyphs">15</tspan><tspan x="164.90" y="0">Cu</tspan><tspan class="sub" x="298.20" y="34.80" textLength="32.45" lengthAdjust="spacingAndGlyphs">5</tspan><tspan x="330.65" y="0">/</tspan><tspan x="357.53" y="0">m-SiO</tspan><tspan class="fin" x="652.82" y="37.45" textLength="54.29" lengthAdjust="spacingAndGlyphs">2</tspan></text>
<text class="lab" transform="translate(1497.10,1809.00) scale(1,1.02)"><tspan x="0.00" y="0">Ni</tspan><tspan class="sub" x="100.00" y="34.80" textLength="64.90" lengthAdjust="spacingAndGlyphs">20</tspan><tspan x="164.90" y="0">/</tspan><tspan x="191.78" y="0">m-SiO</tspan><tspan class="fin" x="487.07" y="37.45" textLength="54.29" lengthAdjust="spacingAndGlyphs">2</tspan></text>
</g>
<g id="glyphfix"><rect x="85.09" y="2299.23" width="18.00" height="12.57" fill="#fff"/><rect x="117.62" y="2299.23" width="16.71" height="12.57" fill="#fff"/><rect x="1602.43" y="751.67" width="10.64" height="8.13" fill="#fff"/><rect x="1621.67" y="751.67" width="9.90" height="8.13" fill="#fff"/><rect x="1397.88" y="1069.27" width="10.64" height="8.13" fill="#fff"/><rect x="1417.12" y="1069.27" width="9.90" height="8.13" fill="#fff"/><rect x="1596.08" y="1069.27" width="10.64" height="8.13" fill="#fff"/><rect x="1615.32" y="1069.27" width="9.90" height="8.13" fill="#fff"/><rect x="1430.88" y="1405.07" width="10.64" height="8.13" fill="#fff"/><rect x="1450.12" y="1405.07" width="9.90" height="8.13" fill="#fff"/></g>
</svg></body></html>
